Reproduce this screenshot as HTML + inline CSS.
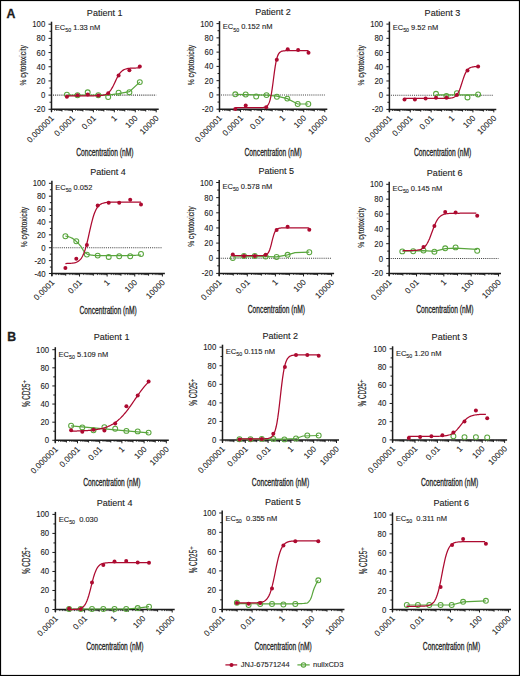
<!DOCTYPE html>
<html><head><meta charset="utf-8"><style>
html,body{margin:0;padding:0;background:#fff;}
body{width:520px;height:676px;overflow:hidden;position:relative;}
svg{position:absolute;left:0;top:0;}
text{font-family:"Liberation Sans",sans-serif;fill:#1c1c1c;stroke:#1c1c1c;stroke-width:0.22px;}
.ax{stroke:#1c1c1c;stroke-width:1;}
.axm{stroke:#1c1c1c;stroke-width:0.8;}
.axl{stroke:#1c1c1c;stroke-width:1.5;}
.dot{stroke:#444;stroke-width:1.1;stroke-dasharray:1.05 1.05;}
.yt{font-size:8.5px;text-anchor:end;stroke-width:0.1px;}
.xt{font-size:8.3px;text-anchor:end;stroke-width:0.1px;}
.title{font-size:9.7px;text-anchor:middle;stroke-width:0.12px;}
.xl{font-size:10.4px;text-anchor:middle;stroke-width:0.3px;}
.yl{font-size:9.7px;text-anchor:middle;stroke-width:0.18px;}
.ec{font-size:8px;stroke-width:0.12px;}
.gln{fill:none;stroke:#58a53c;stroke-width:1.2;}
.gpt{fill:none;stroke:#58a53c;stroke-width:1.05;}
.rln{fill:none;stroke:#ad0a30;stroke-width:1.25;}
.rpt{fill:#ad0a30;stroke:none;}
.lab{font-size:12.3px;font-weight:bold;stroke-width:0.3px;}
.leg{font-size:7.5px;stroke-width:0.1px;}
</style></head><body>
<svg width="520" height="676" viewBox="0 0 520 676">
<rect x="0.5" y="0.5" width="519" height="675" fill="none" stroke="#000" stroke-width="1.2"/>
<text x="6.6" y="17.7" class="lab">A</text>
<text x="7.2" y="341.2" class="lab">B</text>
<line x1="48.50" y1="109.30" x2="51.50" y2="109.30" class="ax"/>
<text transform="translate(45.30 112.30) scale(0.92 1)" class="yt">-20</text>
<line x1="49.50" y1="102.21" x2="51.50" y2="102.21" class="ax"/>
<line x1="48.50" y1="95.12" x2="51.50" y2="95.12" class="ax"/>
<text transform="translate(45.30 98.12) scale(0.92 1)" class="yt">0</text>
<line x1="49.50" y1="88.03" x2="51.50" y2="88.03" class="ax"/>
<line x1="48.50" y1="80.93" x2="51.50" y2="80.93" class="ax"/>
<text transform="translate(45.30 83.93) scale(0.92 1)" class="yt">20</text>
<line x1="49.50" y1="73.84" x2="51.50" y2="73.84" class="ax"/>
<line x1="48.50" y1="66.75" x2="51.50" y2="66.75" class="ax"/>
<text transform="translate(45.30 69.75) scale(0.92 1)" class="yt">40</text>
<line x1="49.50" y1="59.66" x2="51.50" y2="59.66" class="ax"/>
<line x1="48.50" y1="52.57" x2="51.50" y2="52.57" class="ax"/>
<text transform="translate(45.30 55.57) scale(0.92 1)" class="yt">60</text>
<line x1="49.50" y1="45.48" x2="51.50" y2="45.48" class="ax"/>
<line x1="48.50" y1="38.38" x2="51.50" y2="38.38" class="ax"/>
<text transform="translate(45.30 41.38) scale(0.92 1)" class="yt">80</text>
<line x1="49.50" y1="31.29" x2="51.50" y2="31.29" class="ax"/>
<line x1="48.50" y1="24.20" x2="51.50" y2="24.20" class="ax"/>
<text transform="translate(45.30 27.20) scale(0.92 1)" class="yt">100</text>
<line x1="51.50" y1="109.30" x2="51.50" y2="112.30" class="ax"/>
<line x1="54.65" y1="109.30" x2="54.65" y2="110.90" class="axm"/>
<line x1="56.50" y1="109.30" x2="56.50" y2="110.90" class="axm"/>
<line x1="57.80" y1="109.30" x2="57.80" y2="110.90" class="axm"/>
<line x1="58.82" y1="109.30" x2="58.82" y2="110.90" class="axm"/>
<line x1="59.65" y1="109.30" x2="59.65" y2="110.90" class="axm"/>
<line x1="60.35" y1="109.30" x2="60.35" y2="110.90" class="axm"/>
<line x1="60.96" y1="109.30" x2="60.96" y2="110.90" class="axm"/>
<line x1="61.49" y1="109.30" x2="61.49" y2="110.90" class="axm"/>
<text transform="translate(54.60 118.70) rotate(-45)" class="xt">0.000001</text>
<line x1="61.97" y1="109.30" x2="61.97" y2="111.50" class="ax"/>
<line x1="65.12" y1="109.30" x2="65.12" y2="110.90" class="axm"/>
<line x1="66.97" y1="109.30" x2="66.97" y2="110.90" class="axm"/>
<line x1="68.27" y1="109.30" x2="68.27" y2="110.90" class="axm"/>
<line x1="69.29" y1="109.30" x2="69.29" y2="110.90" class="axm"/>
<line x1="70.12" y1="109.30" x2="70.12" y2="110.90" class="axm"/>
<line x1="70.82" y1="109.30" x2="70.82" y2="110.90" class="axm"/>
<line x1="71.43" y1="109.30" x2="71.43" y2="110.90" class="axm"/>
<line x1="71.96" y1="109.30" x2="71.96" y2="110.90" class="axm"/>
<line x1="72.44" y1="109.30" x2="72.44" y2="112.30" class="ax"/>
<line x1="75.59" y1="109.30" x2="75.59" y2="110.90" class="axm"/>
<line x1="77.44" y1="109.30" x2="77.44" y2="110.90" class="axm"/>
<line x1="78.74" y1="109.30" x2="78.74" y2="110.90" class="axm"/>
<line x1="79.76" y1="109.30" x2="79.76" y2="110.90" class="axm"/>
<line x1="80.59" y1="109.30" x2="80.59" y2="110.90" class="axm"/>
<line x1="81.29" y1="109.30" x2="81.29" y2="110.90" class="axm"/>
<line x1="81.90" y1="109.30" x2="81.90" y2="110.90" class="axm"/>
<line x1="82.43" y1="109.30" x2="82.43" y2="110.90" class="axm"/>
<text transform="translate(75.54 118.70) rotate(-45)" class="xt">0.0001</text>
<line x1="82.91" y1="109.30" x2="82.91" y2="111.50" class="ax"/>
<line x1="86.06" y1="109.30" x2="86.06" y2="110.90" class="axm"/>
<line x1="87.91" y1="109.30" x2="87.91" y2="110.90" class="axm"/>
<line x1="89.21" y1="109.30" x2="89.21" y2="110.90" class="axm"/>
<line x1="90.23" y1="109.30" x2="90.23" y2="110.90" class="axm"/>
<line x1="91.06" y1="109.30" x2="91.06" y2="110.90" class="axm"/>
<line x1="91.76" y1="109.30" x2="91.76" y2="110.90" class="axm"/>
<line x1="92.37" y1="109.30" x2="92.37" y2="110.90" class="axm"/>
<line x1="92.90" y1="109.30" x2="92.90" y2="110.90" class="axm"/>
<line x1="93.38" y1="109.30" x2="93.38" y2="112.30" class="ax"/>
<line x1="96.53" y1="109.30" x2="96.53" y2="110.90" class="axm"/>
<line x1="98.38" y1="109.30" x2="98.38" y2="110.90" class="axm"/>
<line x1="99.68" y1="109.30" x2="99.68" y2="110.90" class="axm"/>
<line x1="100.70" y1="109.30" x2="100.70" y2="110.90" class="axm"/>
<line x1="101.53" y1="109.30" x2="101.53" y2="110.90" class="axm"/>
<line x1="102.23" y1="109.30" x2="102.23" y2="110.90" class="axm"/>
<line x1="102.84" y1="109.30" x2="102.84" y2="110.90" class="axm"/>
<line x1="103.37" y1="109.30" x2="103.37" y2="110.90" class="axm"/>
<text transform="translate(96.48 118.70) rotate(-45)" class="xt">0.01</text>
<line x1="103.85" y1="109.30" x2="103.85" y2="111.50" class="ax"/>
<line x1="107.00" y1="109.30" x2="107.00" y2="110.90" class="axm"/>
<line x1="108.85" y1="109.30" x2="108.85" y2="110.90" class="axm"/>
<line x1="110.15" y1="109.30" x2="110.15" y2="110.90" class="axm"/>
<line x1="111.17" y1="109.30" x2="111.17" y2="110.90" class="axm"/>
<line x1="112.00" y1="109.30" x2="112.00" y2="110.90" class="axm"/>
<line x1="112.70" y1="109.30" x2="112.70" y2="110.90" class="axm"/>
<line x1="113.31" y1="109.30" x2="113.31" y2="110.90" class="axm"/>
<line x1="113.84" y1="109.30" x2="113.84" y2="110.90" class="axm"/>
<line x1="114.32" y1="109.30" x2="114.32" y2="112.30" class="ax"/>
<line x1="117.47" y1="109.30" x2="117.47" y2="110.90" class="axm"/>
<line x1="119.32" y1="109.30" x2="119.32" y2="110.90" class="axm"/>
<line x1="120.62" y1="109.30" x2="120.62" y2="110.90" class="axm"/>
<line x1="121.64" y1="109.30" x2="121.64" y2="110.90" class="axm"/>
<line x1="122.47" y1="109.30" x2="122.47" y2="110.90" class="axm"/>
<line x1="123.17" y1="109.30" x2="123.17" y2="110.90" class="axm"/>
<line x1="123.78" y1="109.30" x2="123.78" y2="110.90" class="axm"/>
<line x1="124.31" y1="109.30" x2="124.31" y2="110.90" class="axm"/>
<text transform="translate(117.42 118.70) rotate(-45)" class="xt">1</text>
<line x1="124.79" y1="109.30" x2="124.79" y2="111.50" class="ax"/>
<line x1="127.94" y1="109.30" x2="127.94" y2="110.90" class="axm"/>
<line x1="129.79" y1="109.30" x2="129.79" y2="110.90" class="axm"/>
<line x1="131.09" y1="109.30" x2="131.09" y2="110.90" class="axm"/>
<line x1="132.11" y1="109.30" x2="132.11" y2="110.90" class="axm"/>
<line x1="132.94" y1="109.30" x2="132.94" y2="110.90" class="axm"/>
<line x1="133.64" y1="109.30" x2="133.64" y2="110.90" class="axm"/>
<line x1="134.25" y1="109.30" x2="134.25" y2="110.90" class="axm"/>
<line x1="134.78" y1="109.30" x2="134.78" y2="110.90" class="axm"/>
<line x1="135.26" y1="109.30" x2="135.26" y2="112.30" class="ax"/>
<line x1="138.41" y1="109.30" x2="138.41" y2="110.90" class="axm"/>
<line x1="140.26" y1="109.30" x2="140.26" y2="110.90" class="axm"/>
<line x1="141.56" y1="109.30" x2="141.56" y2="110.90" class="axm"/>
<line x1="142.58" y1="109.30" x2="142.58" y2="110.90" class="axm"/>
<line x1="143.41" y1="109.30" x2="143.41" y2="110.90" class="axm"/>
<line x1="144.11" y1="109.30" x2="144.11" y2="110.90" class="axm"/>
<line x1="144.72" y1="109.30" x2="144.72" y2="110.90" class="axm"/>
<line x1="145.25" y1="109.30" x2="145.25" y2="110.90" class="axm"/>
<text transform="translate(138.36 118.70) rotate(-45)" class="xt">100</text>
<line x1="145.73" y1="109.30" x2="145.73" y2="111.50" class="ax"/>
<line x1="148.88" y1="109.30" x2="148.88" y2="110.90" class="axm"/>
<line x1="150.73" y1="109.30" x2="150.73" y2="110.90" class="axm"/>
<line x1="152.03" y1="109.30" x2="152.03" y2="110.90" class="axm"/>
<line x1="153.05" y1="109.30" x2="153.05" y2="110.90" class="axm"/>
<line x1="153.88" y1="109.30" x2="153.88" y2="110.90" class="axm"/>
<line x1="154.58" y1="109.30" x2="154.58" y2="110.90" class="axm"/>
<line x1="155.19" y1="109.30" x2="155.19" y2="110.90" class="axm"/>
<line x1="155.72" y1="109.30" x2="155.72" y2="110.90" class="axm"/>
<line x1="156.20" y1="109.30" x2="156.20" y2="112.30" class="ax"/>
<text transform="translate(159.30 118.70) rotate(-45)" class="xt">10000</text>
<line x1="51.50" y1="21.70" x2="51.50" y2="111.80" class="axl"/>
<line x1="50.80" y1="109.30" x2="158.70" y2="109.30" class="axl"/>
<line x1="53.00" y1="95.12" x2="156.20" y2="95.12" class="dot"/>
<text transform="translate(104.65 15.80) scale(0.93 1)" class="title">Patient 1</text>
<text x="104.85" y="155.60" class="xl" textLength="57.3" lengthAdjust="spacingAndGlyphs">Concentration (nM)</text>
<text transform="translate(26.40 65.35) rotate(-90)" class="yl" textLength="40.4" lengthAdjust="spacingAndGlyphs">% cytotoxicity</text>
<text transform="translate(54.80 29.70) scale(0.94 1)" class="ec">EC<tspan font-size="5.6" dy="2.4">50</tspan><tspan dy="-2.4">&#160;1.33&#160;nM</tspan></text>
<polyline points="66.90,95.20 108.20,95.20 118.60,93.60 129.40,91.60 139.80,82.10" class="gln"/>
<circle cx="66.90" cy="94.60" r="2.45" class="gpt"/>
<circle cx="77.50" cy="95.20" r="2.45" class="gpt"/>
<circle cx="87.70" cy="92.30" r="2.45" class="gpt"/>
<circle cx="98.30" cy="95.20" r="2.45" class="gpt"/>
<circle cx="108.20" cy="97.00" r="2.45" class="gpt"/>
<circle cx="118.60" cy="92.70" r="2.45" class="gpt"/>
<circle cx="129.40" cy="92.20" r="2.45" class="gpt"/>
<circle cx="139.80" cy="82.10" r="2.45" class="gpt"/>
<polyline points="66.90,95.81 67.64,95.81 68.37,95.81 69.11,95.81 69.85,95.81 70.58,95.81 71.32,95.81 72.05,95.81 72.79,95.81 73.53,95.81 74.26,95.81 75.00,95.81 75.74,95.81 76.47,95.81 77.21,95.81 77.95,95.81 78.68,95.81 79.42,95.81 80.15,95.81 80.89,95.81 81.63,95.81 82.36,95.81 83.10,95.81 83.84,95.81 84.57,95.80 85.31,95.80 86.05,95.80 86.78,95.80 87.52,95.80 88.25,95.80 88.99,95.80 89.73,95.80 90.46,95.79 91.20,95.79 91.94,95.78 92.67,95.78 93.41,95.77 94.15,95.76 94.88,95.75 95.62,95.74 96.35,95.72 97.09,95.70 97.83,95.67 98.56,95.63 99.30,95.59 100.04,95.53 100.77,95.47 101.51,95.38 102.25,95.28 102.98,95.14 103.72,94.98 104.45,94.78 105.19,94.54 105.93,94.23 106.66,93.86 107.40,93.41 108.14,92.87 108.87,92.23 109.61,91.47 110.35,90.58 111.08,89.55 111.82,88.39 112.55,87.11 113.29,85.71 114.03,84.22 114.76,82.67 115.50,81.11 116.24,79.56 116.97,78.07 117.71,76.67 118.45,75.38 119.18,74.22 119.92,73.20 120.65,72.30 121.39,71.54 122.13,70.89 122.86,70.35 123.60,69.90 124.34,69.53 125.07,69.23 125.81,68.98 126.55,68.78 127.28,68.62 128.02,68.49 128.75,68.38 129.49,68.30 130.23,68.23 130.96,68.17 131.70,68.13 132.44,68.09 133.17,68.07 133.91,68.04 134.65,68.02 135.38,68.01 136.12,68.00 136.85,67.99 137.59,67.98 138.33,67.98 139.06,67.97 139.80,67.97" class="rln"/>
<circle cx="66.90" cy="96.70" r="2.0" class="rpt"/>
<circle cx="77.50" cy="95.20" r="2.0" class="rpt"/>
<circle cx="87.70" cy="94.60" r="2.0" class="rpt"/>
<circle cx="98.30" cy="95.40" r="2.0" class="rpt"/>
<circle cx="108.20" cy="93.30" r="2.0" class="rpt"/>
<circle cx="118.60" cy="75.40" r="2.0" class="rpt"/>
<circle cx="129.40" cy="70.20" r="2.0" class="rpt"/>
<circle cx="139.80" cy="66.50" r="2.0" class="rpt"/>
<line x1="216.50" y1="109.20" x2="219.50" y2="109.20" class="ax"/>
<text transform="translate(213.30 112.20) scale(0.92 1)" class="yt">-20</text>
<line x1="217.50" y1="102.07" x2="219.50" y2="102.07" class="ax"/>
<line x1="216.50" y1="94.93" x2="219.50" y2="94.93" class="ax"/>
<text transform="translate(213.30 97.93) scale(0.92 1)" class="yt">0</text>
<line x1="217.50" y1="87.80" x2="219.50" y2="87.80" class="ax"/>
<line x1="216.50" y1="80.67" x2="219.50" y2="80.67" class="ax"/>
<text transform="translate(213.30 83.67) scale(0.92 1)" class="yt">20</text>
<line x1="217.50" y1="73.53" x2="219.50" y2="73.53" class="ax"/>
<line x1="216.50" y1="66.40" x2="219.50" y2="66.40" class="ax"/>
<text transform="translate(213.30 69.40) scale(0.92 1)" class="yt">40</text>
<line x1="217.50" y1="59.27" x2="219.50" y2="59.27" class="ax"/>
<line x1="216.50" y1="52.13" x2="219.50" y2="52.13" class="ax"/>
<text transform="translate(213.30 55.13) scale(0.92 1)" class="yt">60</text>
<line x1="217.50" y1="45.00" x2="219.50" y2="45.00" class="ax"/>
<line x1="216.50" y1="37.87" x2="219.50" y2="37.87" class="ax"/>
<text transform="translate(213.30 40.87) scale(0.92 1)" class="yt">80</text>
<line x1="217.50" y1="30.73" x2="219.50" y2="30.73" class="ax"/>
<line x1="216.50" y1="23.60" x2="219.50" y2="23.60" class="ax"/>
<text transform="translate(213.30 26.60) scale(0.92 1)" class="yt">100</text>
<line x1="219.50" y1="109.20" x2="219.50" y2="112.20" class="ax"/>
<line x1="222.67" y1="109.20" x2="222.67" y2="110.80" class="axm"/>
<line x1="224.52" y1="109.20" x2="224.52" y2="110.80" class="axm"/>
<line x1="225.84" y1="109.20" x2="225.84" y2="110.80" class="axm"/>
<line x1="226.86" y1="109.20" x2="226.86" y2="110.80" class="axm"/>
<line x1="227.69" y1="109.20" x2="227.69" y2="110.80" class="axm"/>
<line x1="228.40" y1="109.20" x2="228.40" y2="110.80" class="axm"/>
<line x1="229.01" y1="109.20" x2="229.01" y2="110.80" class="axm"/>
<line x1="229.55" y1="109.20" x2="229.55" y2="110.80" class="axm"/>
<text transform="translate(222.60 118.60) rotate(-45)" class="xt">0.000001</text>
<line x1="230.03" y1="109.20" x2="230.03" y2="111.40" class="ax"/>
<line x1="233.20" y1="109.20" x2="233.20" y2="110.80" class="axm"/>
<line x1="235.05" y1="109.20" x2="235.05" y2="110.80" class="axm"/>
<line x1="236.37" y1="109.20" x2="236.37" y2="110.80" class="axm"/>
<line x1="237.39" y1="109.20" x2="237.39" y2="110.80" class="axm"/>
<line x1="238.22" y1="109.20" x2="238.22" y2="110.80" class="axm"/>
<line x1="238.93" y1="109.20" x2="238.93" y2="110.80" class="axm"/>
<line x1="239.54" y1="109.20" x2="239.54" y2="110.80" class="axm"/>
<line x1="240.08" y1="109.20" x2="240.08" y2="110.80" class="axm"/>
<line x1="240.56" y1="109.20" x2="240.56" y2="112.20" class="ax"/>
<line x1="243.73" y1="109.20" x2="243.73" y2="110.80" class="axm"/>
<line x1="245.58" y1="109.20" x2="245.58" y2="110.80" class="axm"/>
<line x1="246.90" y1="109.20" x2="246.90" y2="110.80" class="axm"/>
<line x1="247.92" y1="109.20" x2="247.92" y2="110.80" class="axm"/>
<line x1="248.75" y1="109.20" x2="248.75" y2="110.80" class="axm"/>
<line x1="249.46" y1="109.20" x2="249.46" y2="110.80" class="axm"/>
<line x1="250.07" y1="109.20" x2="250.07" y2="110.80" class="axm"/>
<line x1="250.61" y1="109.20" x2="250.61" y2="110.80" class="axm"/>
<text transform="translate(243.66 118.60) rotate(-45)" class="xt">0.0001</text>
<line x1="251.09" y1="109.20" x2="251.09" y2="111.40" class="ax"/>
<line x1="254.26" y1="109.20" x2="254.26" y2="110.80" class="axm"/>
<line x1="256.11" y1="109.20" x2="256.11" y2="110.80" class="axm"/>
<line x1="257.43" y1="109.20" x2="257.43" y2="110.80" class="axm"/>
<line x1="258.45" y1="109.20" x2="258.45" y2="110.80" class="axm"/>
<line x1="259.28" y1="109.20" x2="259.28" y2="110.80" class="axm"/>
<line x1="259.99" y1="109.20" x2="259.99" y2="110.80" class="axm"/>
<line x1="260.60" y1="109.20" x2="260.60" y2="110.80" class="axm"/>
<line x1="261.14" y1="109.20" x2="261.14" y2="110.80" class="axm"/>
<line x1="261.62" y1="109.20" x2="261.62" y2="112.20" class="ax"/>
<line x1="264.79" y1="109.20" x2="264.79" y2="110.80" class="axm"/>
<line x1="266.64" y1="109.20" x2="266.64" y2="110.80" class="axm"/>
<line x1="267.96" y1="109.20" x2="267.96" y2="110.80" class="axm"/>
<line x1="268.98" y1="109.20" x2="268.98" y2="110.80" class="axm"/>
<line x1="269.81" y1="109.20" x2="269.81" y2="110.80" class="axm"/>
<line x1="270.52" y1="109.20" x2="270.52" y2="110.80" class="axm"/>
<line x1="271.13" y1="109.20" x2="271.13" y2="110.80" class="axm"/>
<line x1="271.67" y1="109.20" x2="271.67" y2="110.80" class="axm"/>
<text transform="translate(264.72 118.60) rotate(-45)" class="xt">0.01</text>
<line x1="272.15" y1="109.20" x2="272.15" y2="111.40" class="ax"/>
<line x1="275.32" y1="109.20" x2="275.32" y2="110.80" class="axm"/>
<line x1="277.17" y1="109.20" x2="277.17" y2="110.80" class="axm"/>
<line x1="278.49" y1="109.20" x2="278.49" y2="110.80" class="axm"/>
<line x1="279.51" y1="109.20" x2="279.51" y2="110.80" class="axm"/>
<line x1="280.34" y1="109.20" x2="280.34" y2="110.80" class="axm"/>
<line x1="281.05" y1="109.20" x2="281.05" y2="110.80" class="axm"/>
<line x1="281.66" y1="109.20" x2="281.66" y2="110.80" class="axm"/>
<line x1="282.20" y1="109.20" x2="282.20" y2="110.80" class="axm"/>
<line x1="282.68" y1="109.20" x2="282.68" y2="112.20" class="ax"/>
<line x1="285.85" y1="109.20" x2="285.85" y2="110.80" class="axm"/>
<line x1="287.70" y1="109.20" x2="287.70" y2="110.80" class="axm"/>
<line x1="289.02" y1="109.20" x2="289.02" y2="110.80" class="axm"/>
<line x1="290.04" y1="109.20" x2="290.04" y2="110.80" class="axm"/>
<line x1="290.87" y1="109.20" x2="290.87" y2="110.80" class="axm"/>
<line x1="291.58" y1="109.20" x2="291.58" y2="110.80" class="axm"/>
<line x1="292.19" y1="109.20" x2="292.19" y2="110.80" class="axm"/>
<line x1="292.73" y1="109.20" x2="292.73" y2="110.80" class="axm"/>
<text transform="translate(285.78 118.60) rotate(-45)" class="xt">1</text>
<line x1="293.21" y1="109.20" x2="293.21" y2="111.40" class="ax"/>
<line x1="296.38" y1="109.20" x2="296.38" y2="110.80" class="axm"/>
<line x1="298.23" y1="109.20" x2="298.23" y2="110.80" class="axm"/>
<line x1="299.55" y1="109.20" x2="299.55" y2="110.80" class="axm"/>
<line x1="300.57" y1="109.20" x2="300.57" y2="110.80" class="axm"/>
<line x1="301.40" y1="109.20" x2="301.40" y2="110.80" class="axm"/>
<line x1="302.11" y1="109.20" x2="302.11" y2="110.80" class="axm"/>
<line x1="302.72" y1="109.20" x2="302.72" y2="110.80" class="axm"/>
<line x1="303.26" y1="109.20" x2="303.26" y2="110.80" class="axm"/>
<line x1="303.74" y1="109.20" x2="303.74" y2="112.20" class="ax"/>
<line x1="306.91" y1="109.20" x2="306.91" y2="110.80" class="axm"/>
<line x1="308.76" y1="109.20" x2="308.76" y2="110.80" class="axm"/>
<line x1="310.08" y1="109.20" x2="310.08" y2="110.80" class="axm"/>
<line x1="311.10" y1="109.20" x2="311.10" y2="110.80" class="axm"/>
<line x1="311.93" y1="109.20" x2="311.93" y2="110.80" class="axm"/>
<line x1="312.64" y1="109.20" x2="312.64" y2="110.80" class="axm"/>
<line x1="313.25" y1="109.20" x2="313.25" y2="110.80" class="axm"/>
<line x1="313.79" y1="109.20" x2="313.79" y2="110.80" class="axm"/>
<text transform="translate(306.84 118.60) rotate(-45)" class="xt">100</text>
<line x1="314.27" y1="109.20" x2="314.27" y2="111.40" class="ax"/>
<line x1="317.44" y1="109.20" x2="317.44" y2="110.80" class="axm"/>
<line x1="319.29" y1="109.20" x2="319.29" y2="110.80" class="axm"/>
<line x1="320.61" y1="109.20" x2="320.61" y2="110.80" class="axm"/>
<line x1="321.63" y1="109.20" x2="321.63" y2="110.80" class="axm"/>
<line x1="322.46" y1="109.20" x2="322.46" y2="110.80" class="axm"/>
<line x1="323.17" y1="109.20" x2="323.17" y2="110.80" class="axm"/>
<line x1="323.78" y1="109.20" x2="323.78" y2="110.80" class="axm"/>
<line x1="324.32" y1="109.20" x2="324.32" y2="110.80" class="axm"/>
<line x1="324.80" y1="109.20" x2="324.80" y2="112.20" class="ax"/>
<text transform="translate(327.90 118.60) rotate(-45)" class="xt">10000</text>
<line x1="219.50" y1="21.10" x2="219.50" y2="111.70" class="axl"/>
<line x1="218.80" y1="109.20" x2="327.30" y2="109.20" class="axl"/>
<line x1="221.00" y1="94.93" x2="324.80" y2="94.93" class="dot"/>
<text transform="translate(272.95 15.20) scale(0.93 1)" class="title">Patient 2</text>
<text x="273.15" y="155.50" class="xl" textLength="57.3" lengthAdjust="spacingAndGlyphs">Concentration (nM)</text>
<text transform="translate(194.40 65.00) rotate(-90)" class="yl" textLength="40.4" lengthAdjust="spacingAndGlyphs">% cytotoxicity</text>
<text transform="translate(222.80 29.10) scale(0.94 1)" class="ec">EC<tspan font-size="5.6" dy="2.4">50</tspan><tspan dy="-2.4">&#160;0.152&#160;nM</tspan></text>
<polyline points="235.30,94.40 245.70,94.60 266.50,95.10 276.90,96.20 287.30,98.60 297.70,104.00 308.30,104.00" class="gln"/>
<circle cx="235.30" cy="94.30" r="2.45" class="gpt"/>
<circle cx="245.70" cy="94.50" r="2.45" class="gpt"/>
<circle cx="256.20" cy="96.50" r="2.45" class="gpt"/>
<circle cx="266.50" cy="95.10" r="2.45" class="gpt"/>
<circle cx="276.90" cy="96.70" r="2.45" class="gpt"/>
<circle cx="287.30" cy="98.60" r="2.45" class="gpt"/>
<circle cx="297.70" cy="104.00" r="2.45" class="gpt"/>
<circle cx="308.30" cy="104.00" r="2.45" class="gpt"/>
<polyline points="235.30,107.70 236.04,107.70 236.78,107.70 237.52,107.70 238.26,107.70 239.00,107.70 239.74,107.70 240.48,107.70 241.22,107.70 241.95,107.70 242.69,107.70 243.43,107.70 244.17,107.70 244.91,107.70 245.65,107.70 246.39,107.70 247.13,107.70 247.87,107.70 248.61,107.70 249.35,107.70 250.09,107.70 250.83,107.70 251.57,107.70 252.31,107.70 253.05,107.70 253.78,107.70 254.52,107.70 255.26,107.70 256.00,107.70 256.74,107.70 257.48,107.70 258.22,107.69 258.96,107.68 259.70,107.67 260.44,107.66 261.18,107.64 261.92,107.60 262.66,107.55 263.40,107.48 264.14,107.36 264.88,107.19 265.62,106.94 266.35,106.57 267.09,106.01 267.83,105.21 268.57,104.04 269.31,102.38 270.05,100.08 270.79,96.99 271.53,93.02 272.27,88.20 273.01,82.73 273.75,76.98 274.49,71.40 275.23,66.40 275.97,62.22 276.71,58.92 277.45,56.45 278.18,54.65 278.92,53.38 279.66,52.50 280.40,51.90 281.14,51.48 281.88,51.21 282.62,51.02 283.36,50.90 284.10,50.81 284.84,50.76 285.58,50.72 286.32,50.69 287.06,50.68 287.80,50.67 288.54,50.66 289.28,50.65 290.02,50.65 290.75,50.65 291.49,50.65 292.23,50.65 292.97,50.65 293.71,50.64 294.45,50.64 295.19,50.64 295.93,50.64 296.67,50.64 297.41,50.64 298.15,50.64 298.89,50.64 299.63,50.64 300.37,50.64 301.11,50.64 301.85,50.64 302.58,50.64 303.32,50.64 304.06,50.64 304.80,50.64 305.54,50.64 306.28,50.64 307.02,50.64 307.76,50.64 308.50,50.64" class="rln"/>
<circle cx="235.30" cy="108.90" r="2.0" class="rpt"/>
<circle cx="245.70" cy="105.40" r="2.0" class="rpt"/>
<circle cx="266.20" cy="107.20" r="2.0" class="rpt"/>
<circle cx="276.80" cy="59.70" r="2.0" class="rpt"/>
<circle cx="287.70" cy="49.30" r="2.0" class="rpt"/>
<circle cx="298.10" cy="50.00" r="2.0" class="rpt"/>
<circle cx="308.50" cy="52.80" r="2.0" class="rpt"/>
<line x1="386.40" y1="109.40" x2="389.40" y2="109.40" class="ax"/>
<text transform="translate(383.20 112.40) scale(0.92 1)" class="yt">-20</text>
<line x1="387.40" y1="102.29" x2="389.40" y2="102.29" class="ax"/>
<line x1="386.40" y1="95.18" x2="389.40" y2="95.18" class="ax"/>
<text transform="translate(383.20 98.18) scale(0.92 1)" class="yt">0</text>
<line x1="387.40" y1="88.08" x2="389.40" y2="88.08" class="ax"/>
<line x1="386.40" y1="80.97" x2="389.40" y2="80.97" class="ax"/>
<text transform="translate(383.20 83.97) scale(0.92 1)" class="yt">20</text>
<line x1="387.40" y1="73.86" x2="389.40" y2="73.86" class="ax"/>
<line x1="386.40" y1="66.75" x2="389.40" y2="66.75" class="ax"/>
<text transform="translate(383.20 69.75) scale(0.92 1)" class="yt">40</text>
<line x1="387.40" y1="59.64" x2="389.40" y2="59.64" class="ax"/>
<line x1="386.40" y1="52.53" x2="389.40" y2="52.53" class="ax"/>
<text transform="translate(383.20 55.53) scale(0.92 1)" class="yt">60</text>
<line x1="387.40" y1="45.42" x2="389.40" y2="45.42" class="ax"/>
<line x1="386.40" y1="38.32" x2="389.40" y2="38.32" class="ax"/>
<text transform="translate(383.20 41.32) scale(0.92 1)" class="yt">80</text>
<line x1="387.40" y1="31.21" x2="389.40" y2="31.21" class="ax"/>
<line x1="386.40" y1="24.10" x2="389.40" y2="24.10" class="ax"/>
<text transform="translate(383.20 27.10) scale(0.92 1)" class="yt">100</text>
<line x1="389.40" y1="109.40" x2="389.40" y2="112.40" class="ax"/>
<line x1="392.54" y1="109.40" x2="392.54" y2="111.00" class="axm"/>
<line x1="394.38" y1="109.40" x2="394.38" y2="111.00" class="axm"/>
<line x1="395.69" y1="109.40" x2="395.69" y2="111.00" class="axm"/>
<line x1="396.70" y1="109.40" x2="396.70" y2="111.00" class="axm"/>
<line x1="397.52" y1="109.40" x2="397.52" y2="111.00" class="axm"/>
<line x1="398.22" y1="109.40" x2="398.22" y2="111.00" class="axm"/>
<line x1="398.83" y1="109.40" x2="398.83" y2="111.00" class="axm"/>
<line x1="399.36" y1="109.40" x2="399.36" y2="111.00" class="axm"/>
<text transform="translate(392.50 118.80) rotate(-45)" class="xt">0.000001</text>
<line x1="399.84" y1="109.40" x2="399.84" y2="111.60" class="ax"/>
<line x1="402.98" y1="109.40" x2="402.98" y2="111.00" class="axm"/>
<line x1="404.82" y1="109.40" x2="404.82" y2="111.00" class="axm"/>
<line x1="406.13" y1="109.40" x2="406.13" y2="111.00" class="axm"/>
<line x1="407.14" y1="109.40" x2="407.14" y2="111.00" class="axm"/>
<line x1="407.96" y1="109.40" x2="407.96" y2="111.00" class="axm"/>
<line x1="408.66" y1="109.40" x2="408.66" y2="111.00" class="axm"/>
<line x1="409.27" y1="109.40" x2="409.27" y2="111.00" class="axm"/>
<line x1="409.80" y1="109.40" x2="409.80" y2="111.00" class="axm"/>
<line x1="410.28" y1="109.40" x2="410.28" y2="112.40" class="ax"/>
<line x1="413.42" y1="109.40" x2="413.42" y2="111.00" class="axm"/>
<line x1="415.26" y1="109.40" x2="415.26" y2="111.00" class="axm"/>
<line x1="416.57" y1="109.40" x2="416.57" y2="111.00" class="axm"/>
<line x1="417.58" y1="109.40" x2="417.58" y2="111.00" class="axm"/>
<line x1="418.40" y1="109.40" x2="418.40" y2="111.00" class="axm"/>
<line x1="419.10" y1="109.40" x2="419.10" y2="111.00" class="axm"/>
<line x1="419.71" y1="109.40" x2="419.71" y2="111.00" class="axm"/>
<line x1="420.24" y1="109.40" x2="420.24" y2="111.00" class="axm"/>
<text transform="translate(413.38 118.80) rotate(-45)" class="xt">0.0001</text>
<line x1="420.72" y1="109.40" x2="420.72" y2="111.60" class="ax"/>
<line x1="423.86" y1="109.40" x2="423.86" y2="111.00" class="axm"/>
<line x1="425.70" y1="109.40" x2="425.70" y2="111.00" class="axm"/>
<line x1="427.01" y1="109.40" x2="427.01" y2="111.00" class="axm"/>
<line x1="428.02" y1="109.40" x2="428.02" y2="111.00" class="axm"/>
<line x1="428.84" y1="109.40" x2="428.84" y2="111.00" class="axm"/>
<line x1="429.54" y1="109.40" x2="429.54" y2="111.00" class="axm"/>
<line x1="430.15" y1="109.40" x2="430.15" y2="111.00" class="axm"/>
<line x1="430.68" y1="109.40" x2="430.68" y2="111.00" class="axm"/>
<line x1="431.16" y1="109.40" x2="431.16" y2="112.40" class="ax"/>
<line x1="434.30" y1="109.40" x2="434.30" y2="111.00" class="axm"/>
<line x1="436.14" y1="109.40" x2="436.14" y2="111.00" class="axm"/>
<line x1="437.45" y1="109.40" x2="437.45" y2="111.00" class="axm"/>
<line x1="438.46" y1="109.40" x2="438.46" y2="111.00" class="axm"/>
<line x1="439.28" y1="109.40" x2="439.28" y2="111.00" class="axm"/>
<line x1="439.98" y1="109.40" x2="439.98" y2="111.00" class="axm"/>
<line x1="440.59" y1="109.40" x2="440.59" y2="111.00" class="axm"/>
<line x1="441.12" y1="109.40" x2="441.12" y2="111.00" class="axm"/>
<text transform="translate(434.26 118.80) rotate(-45)" class="xt">0.01</text>
<line x1="441.60" y1="109.40" x2="441.60" y2="111.60" class="ax"/>
<line x1="444.74" y1="109.40" x2="444.74" y2="111.00" class="axm"/>
<line x1="446.58" y1="109.40" x2="446.58" y2="111.00" class="axm"/>
<line x1="447.89" y1="109.40" x2="447.89" y2="111.00" class="axm"/>
<line x1="448.90" y1="109.40" x2="448.90" y2="111.00" class="axm"/>
<line x1="449.72" y1="109.40" x2="449.72" y2="111.00" class="axm"/>
<line x1="450.42" y1="109.40" x2="450.42" y2="111.00" class="axm"/>
<line x1="451.03" y1="109.40" x2="451.03" y2="111.00" class="axm"/>
<line x1="451.56" y1="109.40" x2="451.56" y2="111.00" class="axm"/>
<line x1="452.04" y1="109.40" x2="452.04" y2="112.40" class="ax"/>
<line x1="455.18" y1="109.40" x2="455.18" y2="111.00" class="axm"/>
<line x1="457.02" y1="109.40" x2="457.02" y2="111.00" class="axm"/>
<line x1="458.33" y1="109.40" x2="458.33" y2="111.00" class="axm"/>
<line x1="459.34" y1="109.40" x2="459.34" y2="111.00" class="axm"/>
<line x1="460.16" y1="109.40" x2="460.16" y2="111.00" class="axm"/>
<line x1="460.86" y1="109.40" x2="460.86" y2="111.00" class="axm"/>
<line x1="461.47" y1="109.40" x2="461.47" y2="111.00" class="axm"/>
<line x1="462.00" y1="109.40" x2="462.00" y2="111.00" class="axm"/>
<text transform="translate(455.14 118.80) rotate(-45)" class="xt">1</text>
<line x1="462.48" y1="109.40" x2="462.48" y2="111.60" class="ax"/>
<line x1="465.62" y1="109.40" x2="465.62" y2="111.00" class="axm"/>
<line x1="467.46" y1="109.40" x2="467.46" y2="111.00" class="axm"/>
<line x1="468.77" y1="109.40" x2="468.77" y2="111.00" class="axm"/>
<line x1="469.78" y1="109.40" x2="469.78" y2="111.00" class="axm"/>
<line x1="470.60" y1="109.40" x2="470.60" y2="111.00" class="axm"/>
<line x1="471.30" y1="109.40" x2="471.30" y2="111.00" class="axm"/>
<line x1="471.91" y1="109.40" x2="471.91" y2="111.00" class="axm"/>
<line x1="472.44" y1="109.40" x2="472.44" y2="111.00" class="axm"/>
<line x1="472.92" y1="109.40" x2="472.92" y2="112.40" class="ax"/>
<line x1="476.06" y1="109.40" x2="476.06" y2="111.00" class="axm"/>
<line x1="477.90" y1="109.40" x2="477.90" y2="111.00" class="axm"/>
<line x1="479.21" y1="109.40" x2="479.21" y2="111.00" class="axm"/>
<line x1="480.22" y1="109.40" x2="480.22" y2="111.00" class="axm"/>
<line x1="481.04" y1="109.40" x2="481.04" y2="111.00" class="axm"/>
<line x1="481.74" y1="109.40" x2="481.74" y2="111.00" class="axm"/>
<line x1="482.35" y1="109.40" x2="482.35" y2="111.00" class="axm"/>
<line x1="482.88" y1="109.40" x2="482.88" y2="111.00" class="axm"/>
<text transform="translate(476.02 118.80) rotate(-45)" class="xt">100</text>
<line x1="483.36" y1="109.40" x2="483.36" y2="111.60" class="ax"/>
<line x1="486.50" y1="109.40" x2="486.50" y2="111.00" class="axm"/>
<line x1="488.34" y1="109.40" x2="488.34" y2="111.00" class="axm"/>
<line x1="489.65" y1="109.40" x2="489.65" y2="111.00" class="axm"/>
<line x1="490.66" y1="109.40" x2="490.66" y2="111.00" class="axm"/>
<line x1="491.48" y1="109.40" x2="491.48" y2="111.00" class="axm"/>
<line x1="492.18" y1="109.40" x2="492.18" y2="111.00" class="axm"/>
<line x1="492.79" y1="109.40" x2="492.79" y2="111.00" class="axm"/>
<line x1="493.32" y1="109.40" x2="493.32" y2="111.00" class="axm"/>
<line x1="493.80" y1="109.40" x2="493.80" y2="112.40" class="ax"/>
<text transform="translate(496.90 118.80) rotate(-45)" class="xt">10000</text>
<line x1="389.40" y1="21.60" x2="389.40" y2="111.90" class="axl"/>
<line x1="388.70" y1="109.40" x2="496.30" y2="109.40" class="axl"/>
<line x1="390.90" y1="95.18" x2="493.80" y2="95.18" class="dot"/>
<text transform="translate(442.40 15.70) scale(0.93 1)" class="title">Patient 3</text>
<text x="442.60" y="155.70" class="xl" textLength="57.3" lengthAdjust="spacingAndGlyphs">Concentration (nM)</text>
<text transform="translate(364.30 65.35) rotate(-90)" class="yl" textLength="40.4" lengthAdjust="spacingAndGlyphs">% cytotoxicity</text>
<text transform="translate(392.70 29.60) scale(0.94 1)" class="ec">EC<tspan font-size="5.6" dy="2.4">50</tspan><tspan dy="-2.4">&#160;9.52&#160;nM</tspan></text>
<polyline points="436.00,94.90 478.10,94.90" class="gln"/>
<circle cx="436.00" cy="93.80" r="2.45" class="gpt"/>
<circle cx="446.40" cy="96.00" r="2.45" class="gpt"/>
<circle cx="456.90" cy="93.10" r="2.45" class="gpt"/>
<circle cx="467.50" cy="97.40" r="2.45" class="gpt"/>
<circle cx="478.10" cy="94.40" r="2.45" class="gpt"/>
<polyline points="404.50,98.45 405.24,98.45 405.99,98.45 406.73,98.45 407.47,98.45 408.22,98.45 408.96,98.45 409.70,98.45 410.45,98.45 411.19,98.45 411.93,98.45 412.68,98.45 413.42,98.45 414.16,98.45 414.91,98.45 415.65,98.45 416.39,98.45 417.14,98.45 417.88,98.45 418.63,98.45 419.37,98.45 420.11,98.45 420.86,98.45 421.60,98.45 422.34,98.45 423.09,98.45 423.83,98.45 424.57,98.45 425.32,98.45 426.06,98.45 426.80,98.45 427.55,98.45 428.29,98.45 429.03,98.45 429.78,98.45 430.52,98.45 431.26,98.45 432.01,98.45 432.75,98.45 433.49,98.45 434.24,98.45 434.98,98.45 435.72,98.45 436.47,98.45 437.21,98.45 437.95,98.45 438.70,98.45 439.44,98.45 440.18,98.45 440.93,98.44 441.67,98.44 442.42,98.44 443.16,98.43 443.90,98.43 444.65,98.42 445.39,98.41 446.13,98.39 446.88,98.37 447.62,98.34 448.36,98.31 449.11,98.26 449.85,98.19 450.59,98.11 451.34,97.99 452.08,97.84 452.82,97.64 453.57,97.37 454.31,97.02 455.05,96.56 455.80,95.97 456.54,95.21 457.28,94.25 458.03,93.06 458.77,91.61 459.51,89.91 460.26,87.95 461.00,85.80 461.74,83.50 462.49,81.16 463.23,78.88 463.97,76.74 464.72,74.81 465.46,73.13 466.21,71.72 466.95,70.55 467.69,69.62 468.44,68.88 469.18,68.30 469.92,67.85 470.67,67.51 471.41,67.25 472.15,67.06 472.90,66.91 473.64,66.80 474.38,66.71 475.13,66.65 475.87,66.60 476.61,66.57 477.36,66.54 478.10,66.52" class="rln"/>
<circle cx="404.50" cy="99.40" r="2.0" class="rpt"/>
<circle cx="414.90" cy="99.40" r="2.0" class="rpt"/>
<circle cx="425.60" cy="98.50" r="2.0" class="rpt"/>
<circle cx="436.00" cy="97.80" r="2.0" class="rpt"/>
<circle cx="446.50" cy="97.80" r="2.0" class="rpt"/>
<circle cx="456.90" cy="95.00" r="2.0" class="rpt"/>
<circle cx="467.50" cy="70.40" r="2.0" class="rpt"/>
<circle cx="478.10" cy="66.40" r="2.0" class="rpt"/>
<line x1="48.90" y1="273.50" x2="51.90" y2="273.50" class="ax"/>
<text transform="translate(45.70 276.50) scale(0.92 1)" class="yt">-40</text>
<line x1="49.90" y1="267.06" x2="51.90" y2="267.06" class="ax"/>
<line x1="48.90" y1="260.61" x2="51.90" y2="260.61" class="ax"/>
<text transform="translate(45.70 263.61) scale(0.92 1)" class="yt">-20</text>
<line x1="49.90" y1="254.17" x2="51.90" y2="254.17" class="ax"/>
<line x1="48.90" y1="247.73" x2="51.90" y2="247.73" class="ax"/>
<text transform="translate(45.70 250.73) scale(0.92 1)" class="yt">0</text>
<line x1="49.90" y1="241.29" x2="51.90" y2="241.29" class="ax"/>
<line x1="48.90" y1="234.84" x2="51.90" y2="234.84" class="ax"/>
<text transform="translate(45.70 237.84) scale(0.92 1)" class="yt">20</text>
<line x1="49.90" y1="228.40" x2="51.90" y2="228.40" class="ax"/>
<line x1="48.90" y1="221.96" x2="51.90" y2="221.96" class="ax"/>
<text transform="translate(45.70 224.96) scale(0.92 1)" class="yt">40</text>
<line x1="49.90" y1="215.51" x2="51.90" y2="215.51" class="ax"/>
<line x1="48.90" y1="209.07" x2="51.90" y2="209.07" class="ax"/>
<text transform="translate(45.70 212.07) scale(0.92 1)" class="yt">60</text>
<line x1="49.90" y1="202.63" x2="51.90" y2="202.63" class="ax"/>
<line x1="48.90" y1="196.19" x2="51.90" y2="196.19" class="ax"/>
<text transform="translate(45.70 199.19) scale(0.92 1)" class="yt">80</text>
<line x1="49.90" y1="189.74" x2="51.90" y2="189.74" class="ax"/>
<line x1="48.90" y1="183.30" x2="51.90" y2="183.30" class="ax"/>
<text transform="translate(45.70 186.30) scale(0.92 1)" class="yt">100</text>
<line x1="51.90" y1="273.50" x2="51.90" y2="276.50" class="ax"/>
<line x1="56.06" y1="273.50" x2="56.06" y2="275.10" class="axm"/>
<line x1="58.49" y1="273.50" x2="58.49" y2="275.10" class="axm"/>
<line x1="60.21" y1="273.50" x2="60.21" y2="275.10" class="axm"/>
<line x1="61.55" y1="273.50" x2="61.55" y2="275.10" class="axm"/>
<line x1="62.65" y1="273.50" x2="62.65" y2="275.10" class="axm"/>
<line x1="63.57" y1="273.50" x2="63.57" y2="275.10" class="axm"/>
<line x1="64.37" y1="273.50" x2="64.37" y2="275.10" class="axm"/>
<line x1="65.08" y1="273.50" x2="65.08" y2="275.10" class="axm"/>
<text transform="translate(55.00 282.90) rotate(-45)" class="xt">0.0001</text>
<line x1="65.71" y1="273.50" x2="65.71" y2="275.70" class="ax"/>
<line x1="69.87" y1="273.50" x2="69.87" y2="275.10" class="axm"/>
<line x1="72.30" y1="273.50" x2="72.30" y2="275.10" class="axm"/>
<line x1="74.02" y1="273.50" x2="74.02" y2="275.10" class="axm"/>
<line x1="75.36" y1="273.50" x2="75.36" y2="275.10" class="axm"/>
<line x1="76.46" y1="273.50" x2="76.46" y2="275.10" class="axm"/>
<line x1="77.38" y1="273.50" x2="77.38" y2="275.10" class="axm"/>
<line x1="78.18" y1="273.50" x2="78.18" y2="275.10" class="axm"/>
<line x1="78.89" y1="273.50" x2="78.89" y2="275.10" class="axm"/>
<line x1="79.52" y1="273.50" x2="79.52" y2="276.50" class="ax"/>
<line x1="83.68" y1="273.50" x2="83.68" y2="275.10" class="axm"/>
<line x1="86.11" y1="273.50" x2="86.11" y2="275.10" class="axm"/>
<line x1="87.83" y1="273.50" x2="87.83" y2="275.10" class="axm"/>
<line x1="89.17" y1="273.50" x2="89.17" y2="275.10" class="axm"/>
<line x1="90.27" y1="273.50" x2="90.27" y2="275.10" class="axm"/>
<line x1="91.19" y1="273.50" x2="91.19" y2="275.10" class="axm"/>
<line x1="91.99" y1="273.50" x2="91.99" y2="275.10" class="axm"/>
<line x1="92.70" y1="273.50" x2="92.70" y2="275.10" class="axm"/>
<text transform="translate(82.62 282.90) rotate(-45)" class="xt">0.01</text>
<line x1="93.33" y1="273.50" x2="93.33" y2="275.70" class="ax"/>
<line x1="97.49" y1="273.50" x2="97.49" y2="275.10" class="axm"/>
<line x1="99.92" y1="273.50" x2="99.92" y2="275.10" class="axm"/>
<line x1="101.64" y1="273.50" x2="101.64" y2="275.10" class="axm"/>
<line x1="102.98" y1="273.50" x2="102.98" y2="275.10" class="axm"/>
<line x1="104.08" y1="273.50" x2="104.08" y2="275.10" class="axm"/>
<line x1="105.00" y1="273.50" x2="105.00" y2="275.10" class="axm"/>
<line x1="105.80" y1="273.50" x2="105.80" y2="275.10" class="axm"/>
<line x1="106.51" y1="273.50" x2="106.51" y2="275.10" class="axm"/>
<line x1="107.14" y1="273.50" x2="107.14" y2="276.50" class="ax"/>
<line x1="111.30" y1="273.50" x2="111.30" y2="275.10" class="axm"/>
<line x1="113.73" y1="273.50" x2="113.73" y2="275.10" class="axm"/>
<line x1="115.45" y1="273.50" x2="115.45" y2="275.10" class="axm"/>
<line x1="116.79" y1="273.50" x2="116.79" y2="275.10" class="axm"/>
<line x1="117.89" y1="273.50" x2="117.89" y2="275.10" class="axm"/>
<line x1="118.81" y1="273.50" x2="118.81" y2="275.10" class="axm"/>
<line x1="119.61" y1="273.50" x2="119.61" y2="275.10" class="axm"/>
<line x1="120.32" y1="273.50" x2="120.32" y2="275.10" class="axm"/>
<text transform="translate(110.24 282.90) rotate(-45)" class="xt">1</text>
<line x1="120.95" y1="273.50" x2="120.95" y2="275.70" class="ax"/>
<line x1="125.11" y1="273.50" x2="125.11" y2="275.10" class="axm"/>
<line x1="127.54" y1="273.50" x2="127.54" y2="275.10" class="axm"/>
<line x1="129.26" y1="273.50" x2="129.26" y2="275.10" class="axm"/>
<line x1="130.60" y1="273.50" x2="130.60" y2="275.10" class="axm"/>
<line x1="131.70" y1="273.50" x2="131.70" y2="275.10" class="axm"/>
<line x1="132.62" y1="273.50" x2="132.62" y2="275.10" class="axm"/>
<line x1="133.42" y1="273.50" x2="133.42" y2="275.10" class="axm"/>
<line x1="134.13" y1="273.50" x2="134.13" y2="275.10" class="axm"/>
<line x1="134.76" y1="273.50" x2="134.76" y2="276.50" class="ax"/>
<line x1="138.92" y1="273.50" x2="138.92" y2="275.10" class="axm"/>
<line x1="141.35" y1="273.50" x2="141.35" y2="275.10" class="axm"/>
<line x1="143.07" y1="273.50" x2="143.07" y2="275.10" class="axm"/>
<line x1="144.41" y1="273.50" x2="144.41" y2="275.10" class="axm"/>
<line x1="145.51" y1="273.50" x2="145.51" y2="275.10" class="axm"/>
<line x1="146.43" y1="273.50" x2="146.43" y2="275.10" class="axm"/>
<line x1="147.23" y1="273.50" x2="147.23" y2="275.10" class="axm"/>
<line x1="147.94" y1="273.50" x2="147.94" y2="275.10" class="axm"/>
<text transform="translate(137.86 282.90) rotate(-45)" class="xt">100</text>
<line x1="148.57" y1="273.50" x2="148.57" y2="275.70" class="ax"/>
<line x1="152.73" y1="273.50" x2="152.73" y2="275.10" class="axm"/>
<line x1="155.16" y1="273.50" x2="155.16" y2="275.10" class="axm"/>
<line x1="156.88" y1="273.50" x2="156.88" y2="275.10" class="axm"/>
<line x1="158.22" y1="273.50" x2="158.22" y2="275.10" class="axm"/>
<line x1="159.32" y1="273.50" x2="159.32" y2="275.10" class="axm"/>
<line x1="160.24" y1="273.50" x2="160.24" y2="275.10" class="axm"/>
<line x1="161.04" y1="273.50" x2="161.04" y2="275.10" class="axm"/>
<line x1="161.75" y1="273.50" x2="161.75" y2="275.10" class="axm"/>
<line x1="162.38" y1="273.50" x2="162.38" y2="276.50" class="ax"/>
<text transform="translate(165.48 282.90) rotate(-45)" class="xt">10000</text>
<line x1="51.90" y1="180.80" x2="51.90" y2="276.00" class="axl"/>
<line x1="51.20" y1="273.50" x2="164.88" y2="273.50" class="axl"/>
<line x1="53.40" y1="247.73" x2="162.38" y2="247.73" class="dot"/>
<text transform="translate(107.94 174.90) scale(0.93 1)" class="title">Patient 4</text>
<text x="108.14" y="313.50" class="xl" textLength="57.3" lengthAdjust="spacingAndGlyphs">Concentration (nM)</text>
<text transform="translate(26.80 227.00) rotate(-90)" class="yl" textLength="40.4" lengthAdjust="spacingAndGlyphs">% cytotoxicity</text>
<text transform="translate(55.20 189.80) scale(0.94 1)" class="ec">EC<tspan font-size="5.6" dy="2.4">50</tspan><tspan dy="-2.4">&#160;0.052</tspan></text>
<polyline points="65.40,236.20 66.36,236.26 67.31,236.42 68.27,236.66 69.23,236.96 70.18,237.31 71.14,237.68 72.10,238.13 73.06,238.76 74.01,239.50 74.97,240.32 75.93,241.17 76.88,242.03 77.84,242.95 78.80,243.95 79.75,245.03 80.71,246.19 81.67,247.58 82.63,249.24 83.58,250.83 84.54,252.04 85.50,252.88 86.45,253.63 87.41,254.21 88.37,254.57 89.32,254.76 90.28,254.92 91.24,255.07 92.19,255.20 93.15,255.31 94.11,255.40 95.07,255.48 96.02,255.54 96.98,255.58 97.94,255.60 98.89,255.61 99.85,255.62 100.81,255.62 101.76,255.63 102.72,255.64 103.68,255.65 104.64,255.65 105.59,255.66 106.55,255.66 107.51,255.67 108.46,255.67 109.42,255.68 110.38,255.68 111.33,255.69 112.29,255.69 113.25,255.69 114.21,255.69 115.16,255.70 116.12,255.70 117.08,255.70 118.03,255.70 118.99,255.70 119.95,255.70 120.90,255.70 121.86,255.69 122.82,255.68 123.77,255.67 124.73,255.65 125.69,255.63 126.65,255.61 127.60,255.58 128.56,255.55 129.52,255.52 130.47,255.49 131.43,255.45 132.39,255.41 133.34,255.37 134.30,255.33 135.26,255.29 136.22,255.24 137.17,255.19 138.13,255.15 139.09,255.10 140.04,255.05 141.00,255.00" class="gln"/>
<circle cx="65.40" cy="236.20" r="2.45" class="gpt"/>
<circle cx="76.30" cy="241.20" r="2.45" class="gpt"/>
<circle cx="86.90" cy="254.60" r="2.45" class="gpt"/>
<circle cx="97.70" cy="255.60" r="2.45" class="gpt"/>
<circle cx="108.70" cy="256.90" r="2.45" class="gpt"/>
<circle cx="119.20" cy="256.30" r="2.45" class="gpt"/>
<circle cx="130.20" cy="256.30" r="2.45" class="gpt"/>
<circle cx="141.00" cy="254.00" r="2.45" class="gpt"/>
<polyline points="65.40,263.52 66.16,263.51 66.93,263.49 67.69,263.47 68.45,263.44 69.22,263.41 69.98,263.36 70.75,263.31 71.51,263.25 72.27,263.16 73.04,263.06 73.80,262.93 74.56,262.77 75.33,262.58 76.09,262.33 76.85,262.03 77.62,261.65 78.38,261.19 79.15,260.61 79.91,259.91 80.67,259.06 81.44,258.03 82.20,256.79 82.96,255.32 83.73,253.58 84.49,251.56 85.25,249.25 86.02,246.64 86.78,243.75 87.55,240.63 88.31,237.33 89.07,233.92 89.84,230.48 90.60,227.10 91.36,223.86 92.13,220.82 92.89,218.03 93.65,215.53 94.42,213.33 95.18,211.42 95.95,209.78 96.71,208.40 97.47,207.24 98.24,206.28 99.00,205.49 99.76,204.84 100.53,204.31 101.29,203.88 102.05,203.53 102.82,203.25 103.58,203.02 104.35,202.84 105.11,202.69 105.87,202.58 106.64,202.48 107.40,202.41 108.16,202.35 108.93,202.30 109.69,202.26 110.45,202.23 111.22,202.20 111.98,202.18 112.75,202.17 113.51,202.15 114.27,202.14 115.04,202.14 115.80,202.13 116.56,202.12 117.33,202.12 118.09,202.12 118.85,202.11 119.62,202.11 120.38,202.11 121.15,202.11 121.91,202.11 122.67,202.11 123.44,202.11 124.20,202.11 124.96,202.10 125.73,202.10 126.49,202.10 127.25,202.10 128.02,202.10 128.78,202.10 129.55,202.10 130.31,202.10 131.07,202.10 131.84,202.10 132.60,202.10 133.36,202.10 134.13,202.10 134.89,202.10 135.65,202.10 136.42,202.10 137.18,202.10 137.95,202.10 138.71,202.10 139.47,202.10 140.24,202.10 141.00,202.10" class="rln"/>
<circle cx="65.40" cy="267.90" r="2.0" class="rpt"/>
<circle cx="76.30" cy="258.80" r="2.0" class="rpt"/>
<circle cx="86.90" cy="245.00" r="2.0" class="rpt"/>
<circle cx="97.70" cy="205.60" r="2.0" class="rpt"/>
<circle cx="108.70" cy="202.70" r="2.0" class="rpt"/>
<circle cx="119.20" cy="202.70" r="2.0" class="rpt"/>
<circle cx="130.20" cy="199.80" r="2.0" class="rpt"/>
<circle cx="141.00" cy="204.40" r="2.0" class="rpt"/>
<line x1="216.20" y1="273.40" x2="219.20" y2="273.40" class="ax"/>
<text transform="translate(213.00 276.40) scale(0.92 1)" class="yt">-20</text>
<line x1="217.20" y1="265.82" x2="219.20" y2="265.82" class="ax"/>
<line x1="216.20" y1="258.25" x2="219.20" y2="258.25" class="ax"/>
<text transform="translate(213.00 261.25) scale(0.92 1)" class="yt">0</text>
<line x1="217.20" y1="250.67" x2="219.20" y2="250.67" class="ax"/>
<line x1="216.20" y1="243.10" x2="219.20" y2="243.10" class="ax"/>
<text transform="translate(213.00 246.10) scale(0.92 1)" class="yt">20</text>
<line x1="217.20" y1="235.52" x2="219.20" y2="235.52" class="ax"/>
<line x1="216.20" y1="227.95" x2="219.20" y2="227.95" class="ax"/>
<text transform="translate(213.00 230.95) scale(0.92 1)" class="yt">40</text>
<line x1="217.20" y1="220.38" x2="219.20" y2="220.38" class="ax"/>
<line x1="216.20" y1="212.80" x2="219.20" y2="212.80" class="ax"/>
<text transform="translate(213.00 215.80) scale(0.92 1)" class="yt">60</text>
<line x1="217.20" y1="205.22" x2="219.20" y2="205.22" class="ax"/>
<line x1="216.20" y1="197.65" x2="219.20" y2="197.65" class="ax"/>
<text transform="translate(213.00 200.65) scale(0.92 1)" class="yt">80</text>
<line x1="217.20" y1="190.07" x2="219.20" y2="190.07" class="ax"/>
<line x1="216.20" y1="182.50" x2="219.20" y2="182.50" class="ax"/>
<text transform="translate(213.00 185.50) scale(0.92 1)" class="yt">100</text>
<line x1="219.20" y1="273.40" x2="219.20" y2="276.40" class="ax"/>
<line x1="223.43" y1="273.40" x2="223.43" y2="275.00" class="axm"/>
<line x1="225.90" y1="273.40" x2="225.90" y2="275.00" class="axm"/>
<line x1="227.66" y1="273.40" x2="227.66" y2="275.00" class="axm"/>
<line x1="229.02" y1="273.40" x2="229.02" y2="275.00" class="axm"/>
<line x1="230.13" y1="273.40" x2="230.13" y2="275.00" class="axm"/>
<line x1="231.07" y1="273.40" x2="231.07" y2="275.00" class="axm"/>
<line x1="231.89" y1="273.40" x2="231.89" y2="275.00" class="axm"/>
<line x1="232.61" y1="273.40" x2="232.61" y2="275.00" class="axm"/>
<text transform="translate(222.30 282.80) rotate(-45)" class="xt">0.0001</text>
<line x1="233.25" y1="273.40" x2="233.25" y2="275.60" class="ax"/>
<line x1="237.48" y1="273.40" x2="237.48" y2="275.00" class="axm"/>
<line x1="239.95" y1="273.40" x2="239.95" y2="275.00" class="axm"/>
<line x1="241.71" y1="273.40" x2="241.71" y2="275.00" class="axm"/>
<line x1="243.07" y1="273.40" x2="243.07" y2="275.00" class="axm"/>
<line x1="244.18" y1="273.40" x2="244.18" y2="275.00" class="axm"/>
<line x1="245.12" y1="273.40" x2="245.12" y2="275.00" class="axm"/>
<line x1="245.94" y1="273.40" x2="245.94" y2="275.00" class="axm"/>
<line x1="246.66" y1="273.40" x2="246.66" y2="275.00" class="axm"/>
<line x1="247.30" y1="273.40" x2="247.30" y2="276.40" class="ax"/>
<line x1="251.53" y1="273.40" x2="251.53" y2="275.00" class="axm"/>
<line x1="254.00" y1="273.40" x2="254.00" y2="275.00" class="axm"/>
<line x1="255.76" y1="273.40" x2="255.76" y2="275.00" class="axm"/>
<line x1="257.12" y1="273.40" x2="257.12" y2="275.00" class="axm"/>
<line x1="258.23" y1="273.40" x2="258.23" y2="275.00" class="axm"/>
<line x1="259.17" y1="273.40" x2="259.17" y2="275.00" class="axm"/>
<line x1="259.99" y1="273.40" x2="259.99" y2="275.00" class="axm"/>
<line x1="260.71" y1="273.40" x2="260.71" y2="275.00" class="axm"/>
<text transform="translate(250.40 282.80) rotate(-45)" class="xt">0.01</text>
<line x1="261.35" y1="273.40" x2="261.35" y2="275.60" class="ax"/>
<line x1="265.58" y1="273.40" x2="265.58" y2="275.00" class="axm"/>
<line x1="268.05" y1="273.40" x2="268.05" y2="275.00" class="axm"/>
<line x1="269.81" y1="273.40" x2="269.81" y2="275.00" class="axm"/>
<line x1="271.17" y1="273.40" x2="271.17" y2="275.00" class="axm"/>
<line x1="272.28" y1="273.40" x2="272.28" y2="275.00" class="axm"/>
<line x1="273.22" y1="273.40" x2="273.22" y2="275.00" class="axm"/>
<line x1="274.04" y1="273.40" x2="274.04" y2="275.00" class="axm"/>
<line x1="274.76" y1="273.40" x2="274.76" y2="275.00" class="axm"/>
<line x1="275.40" y1="273.40" x2="275.40" y2="276.40" class="ax"/>
<line x1="279.63" y1="273.40" x2="279.63" y2="275.00" class="axm"/>
<line x1="282.10" y1="273.40" x2="282.10" y2="275.00" class="axm"/>
<line x1="283.86" y1="273.40" x2="283.86" y2="275.00" class="axm"/>
<line x1="285.22" y1="273.40" x2="285.22" y2="275.00" class="axm"/>
<line x1="286.33" y1="273.40" x2="286.33" y2="275.00" class="axm"/>
<line x1="287.27" y1="273.40" x2="287.27" y2="275.00" class="axm"/>
<line x1="288.09" y1="273.40" x2="288.09" y2="275.00" class="axm"/>
<line x1="288.81" y1="273.40" x2="288.81" y2="275.00" class="axm"/>
<text transform="translate(278.50 282.80) rotate(-45)" class="xt">1</text>
<line x1="289.45" y1="273.40" x2="289.45" y2="275.60" class="ax"/>
<line x1="293.68" y1="273.40" x2="293.68" y2="275.00" class="axm"/>
<line x1="296.15" y1="273.40" x2="296.15" y2="275.00" class="axm"/>
<line x1="297.91" y1="273.40" x2="297.91" y2="275.00" class="axm"/>
<line x1="299.27" y1="273.40" x2="299.27" y2="275.00" class="axm"/>
<line x1="300.38" y1="273.40" x2="300.38" y2="275.00" class="axm"/>
<line x1="301.32" y1="273.40" x2="301.32" y2="275.00" class="axm"/>
<line x1="302.14" y1="273.40" x2="302.14" y2="275.00" class="axm"/>
<line x1="302.86" y1="273.40" x2="302.86" y2="275.00" class="axm"/>
<line x1="303.50" y1="273.40" x2="303.50" y2="276.40" class="ax"/>
<line x1="307.73" y1="273.40" x2="307.73" y2="275.00" class="axm"/>
<line x1="310.20" y1="273.40" x2="310.20" y2="275.00" class="axm"/>
<line x1="311.96" y1="273.40" x2="311.96" y2="275.00" class="axm"/>
<line x1="313.32" y1="273.40" x2="313.32" y2="275.00" class="axm"/>
<line x1="314.43" y1="273.40" x2="314.43" y2="275.00" class="axm"/>
<line x1="315.37" y1="273.40" x2="315.37" y2="275.00" class="axm"/>
<line x1="316.19" y1="273.40" x2="316.19" y2="275.00" class="axm"/>
<line x1="316.91" y1="273.40" x2="316.91" y2="275.00" class="axm"/>
<text transform="translate(306.60 282.80) rotate(-45)" class="xt">100</text>
<line x1="317.55" y1="273.40" x2="317.55" y2="275.60" class="ax"/>
<line x1="321.78" y1="273.40" x2="321.78" y2="275.00" class="axm"/>
<line x1="324.25" y1="273.40" x2="324.25" y2="275.00" class="axm"/>
<line x1="326.01" y1="273.40" x2="326.01" y2="275.00" class="axm"/>
<line x1="327.37" y1="273.40" x2="327.37" y2="275.00" class="axm"/>
<line x1="328.48" y1="273.40" x2="328.48" y2="275.00" class="axm"/>
<line x1="329.42" y1="273.40" x2="329.42" y2="275.00" class="axm"/>
<line x1="330.24" y1="273.40" x2="330.24" y2="275.00" class="axm"/>
<line x1="330.96" y1="273.40" x2="330.96" y2="275.00" class="axm"/>
<line x1="331.60" y1="273.40" x2="331.60" y2="276.40" class="ax"/>
<text transform="translate(334.70 282.80) rotate(-45)" class="xt">10000</text>
<line x1="219.20" y1="180.00" x2="219.20" y2="275.90" class="axl"/>
<line x1="218.50" y1="273.40" x2="334.10" y2="273.40" class="axl"/>
<line x1="220.70" y1="258.25" x2="331.60" y2="258.25" class="dot"/>
<text transform="translate(276.20 174.10) scale(0.93 1)" class="title">Patient 5</text>
<text x="276.40" y="313.40" class="xl" textLength="57.3" lengthAdjust="spacingAndGlyphs">Concentration (nM)</text>
<text transform="translate(194.10 226.55) rotate(-90)" class="yl" textLength="40.4" lengthAdjust="spacingAndGlyphs">% cytotoxicity</text>
<text transform="translate(222.50 188.60) scale(0.94 1)" class="ec">EC<tspan font-size="5.6" dy="2.4">50</tspan><tspan dy="-2.4">&#160;0.578&#160;nM</tspan></text>
<polyline points="232.80,257.00 265.70,256.60 276.60,256.90 287.60,254.80 295.00,252.60 309.30,252.20" class="gln"/>
<circle cx="232.80" cy="257.90" r="2.45" class="gpt"/>
<circle cx="244.00" cy="256.00" r="2.45" class="gpt"/>
<circle cx="254.80" cy="256.00" r="2.45" class="gpt"/>
<circle cx="265.70" cy="256.50" r="2.45" class="gpt"/>
<circle cx="276.60" cy="256.90" r="2.45" class="gpt"/>
<circle cx="287.60" cy="254.80" r="2.45" class="gpt"/>
<circle cx="309.30" cy="252.20" r="2.45" class="gpt"/>
<polyline points="232.80,255.67 233.57,255.67 234.34,255.67 235.11,255.67 235.87,255.67 236.64,255.67 237.41,255.67 238.18,255.67 238.95,255.67 239.72,255.67 240.49,255.67 241.26,255.67 242.02,255.67 242.79,255.67 243.56,255.67 244.33,255.67 245.10,255.67 245.87,255.67 246.64,255.67 247.41,255.67 248.17,255.67 248.94,255.67 249.71,255.67 250.48,255.67 251.25,255.67 252.02,255.67 252.79,255.67 253.55,255.67 254.32,255.67 255.09,255.66 255.86,255.66 256.63,255.66 257.40,255.66 258.17,255.66 258.94,255.65 259.70,255.65 260.47,255.63 261.24,255.62 262.01,255.59 262.78,255.54 263.55,255.47 264.32,255.36 265.08,255.19 265.85,254.92 266.62,254.51 267.39,253.88 268.16,252.96 268.93,251.63 269.70,249.80 270.47,247.42 271.23,244.58 272.00,241.46 272.77,238.38 273.54,235.61 274.31,233.34 275.08,231.61 275.85,230.37 276.62,229.51 277.38,228.94 278.15,228.56 278.92,228.31 279.69,228.15 280.46,228.05 281.23,227.99 282.00,227.94 282.76,227.92 283.53,227.90 284.30,227.89 285.07,227.88 285.84,227.88 286.61,227.88 287.38,227.87 288.15,227.87 288.91,227.87 289.68,227.87 290.45,227.87 291.22,227.87 291.99,227.87 292.76,227.87 293.53,227.87 294.29,227.87 295.06,227.87 295.83,227.87 296.60,227.87 297.37,227.87 298.14,227.87 298.91,227.87 299.68,227.87 300.44,227.87 301.21,227.87 301.98,227.87 302.75,227.87 303.52,227.87 304.29,227.87 305.06,227.87 305.83,227.87 306.59,227.87 307.36,227.87 308.13,227.87 308.90,227.87" class="rln"/>
<circle cx="232.80" cy="254.40" r="2.0" class="rpt"/>
<circle cx="244.00" cy="256.00" r="2.0" class="rpt"/>
<circle cx="254.80" cy="256.00" r="2.0" class="rpt"/>
<circle cx="265.70" cy="254.80" r="2.0" class="rpt"/>
<circle cx="276.60" cy="230.00" r="2.0" class="rpt"/>
<circle cx="287.60" cy="226.80" r="2.0" class="rpt"/>
<circle cx="309.30" cy="229.70" r="2.0" class="rpt"/>
<line x1="386.20" y1="273.40" x2="389.20" y2="273.40" class="ax"/>
<text transform="translate(383.00 276.40) scale(0.92 1)" class="yt">-20</text>
<line x1="387.20" y1="265.97" x2="389.20" y2="265.97" class="ax"/>
<line x1="386.20" y1="258.55" x2="389.20" y2="258.55" class="ax"/>
<text transform="translate(383.00 261.55) scale(0.92 1)" class="yt">0</text>
<line x1="387.20" y1="251.12" x2="389.20" y2="251.12" class="ax"/>
<line x1="386.20" y1="243.70" x2="389.20" y2="243.70" class="ax"/>
<text transform="translate(383.00 246.70) scale(0.92 1)" class="yt">20</text>
<line x1="387.20" y1="236.27" x2="389.20" y2="236.27" class="ax"/>
<line x1="386.20" y1="228.85" x2="389.20" y2="228.85" class="ax"/>
<text transform="translate(383.00 231.85) scale(0.92 1)" class="yt">40</text>
<line x1="387.20" y1="221.43" x2="389.20" y2="221.43" class="ax"/>
<line x1="386.20" y1="214.00" x2="389.20" y2="214.00" class="ax"/>
<text transform="translate(383.00 217.00) scale(0.92 1)" class="yt">60</text>
<line x1="387.20" y1="206.57" x2="389.20" y2="206.57" class="ax"/>
<line x1="386.20" y1="199.15" x2="389.20" y2="199.15" class="ax"/>
<text transform="translate(383.00 202.15) scale(0.92 1)" class="yt">80</text>
<line x1="387.20" y1="191.73" x2="389.20" y2="191.73" class="ax"/>
<line x1="386.20" y1="184.30" x2="389.20" y2="184.30" class="ax"/>
<text transform="translate(383.00 187.30) scale(0.92 1)" class="yt">100</text>
<line x1="389.20" y1="273.40" x2="389.20" y2="276.40" class="ax"/>
<line x1="393.31" y1="273.40" x2="393.31" y2="275.00" class="axm"/>
<line x1="395.72" y1="273.40" x2="395.72" y2="275.00" class="axm"/>
<line x1="397.42" y1="273.40" x2="397.42" y2="275.00" class="axm"/>
<line x1="398.75" y1="273.40" x2="398.75" y2="275.00" class="axm"/>
<line x1="399.83" y1="273.40" x2="399.83" y2="275.00" class="axm"/>
<line x1="400.74" y1="273.40" x2="400.74" y2="275.00" class="axm"/>
<line x1="401.54" y1="273.40" x2="401.54" y2="275.00" class="axm"/>
<line x1="402.23" y1="273.40" x2="402.23" y2="275.00" class="axm"/>
<text transform="translate(392.30 282.80) rotate(-45)" class="xt">0.0001</text>
<line x1="402.86" y1="273.40" x2="402.86" y2="275.60" class="ax"/>
<line x1="406.97" y1="273.40" x2="406.97" y2="275.00" class="axm"/>
<line x1="409.38" y1="273.40" x2="409.38" y2="275.00" class="axm"/>
<line x1="411.08" y1="273.40" x2="411.08" y2="275.00" class="axm"/>
<line x1="412.41" y1="273.40" x2="412.41" y2="275.00" class="axm"/>
<line x1="413.49" y1="273.40" x2="413.49" y2="275.00" class="axm"/>
<line x1="414.40" y1="273.40" x2="414.40" y2="275.00" class="axm"/>
<line x1="415.20" y1="273.40" x2="415.20" y2="275.00" class="axm"/>
<line x1="415.89" y1="273.40" x2="415.89" y2="275.00" class="axm"/>
<line x1="416.52" y1="273.40" x2="416.52" y2="276.40" class="ax"/>
<line x1="420.63" y1="273.40" x2="420.63" y2="275.00" class="axm"/>
<line x1="423.04" y1="273.40" x2="423.04" y2="275.00" class="axm"/>
<line x1="424.74" y1="273.40" x2="424.74" y2="275.00" class="axm"/>
<line x1="426.07" y1="273.40" x2="426.07" y2="275.00" class="axm"/>
<line x1="427.15" y1="273.40" x2="427.15" y2="275.00" class="axm"/>
<line x1="428.06" y1="273.40" x2="428.06" y2="275.00" class="axm"/>
<line x1="428.86" y1="273.40" x2="428.86" y2="275.00" class="axm"/>
<line x1="429.55" y1="273.40" x2="429.55" y2="275.00" class="axm"/>
<text transform="translate(419.62 282.80) rotate(-45)" class="xt">0.01</text>
<line x1="430.18" y1="273.40" x2="430.18" y2="275.60" class="ax"/>
<line x1="434.29" y1="273.40" x2="434.29" y2="275.00" class="axm"/>
<line x1="436.70" y1="273.40" x2="436.70" y2="275.00" class="axm"/>
<line x1="438.40" y1="273.40" x2="438.40" y2="275.00" class="axm"/>
<line x1="439.73" y1="273.40" x2="439.73" y2="275.00" class="axm"/>
<line x1="440.81" y1="273.40" x2="440.81" y2="275.00" class="axm"/>
<line x1="441.72" y1="273.40" x2="441.72" y2="275.00" class="axm"/>
<line x1="442.52" y1="273.40" x2="442.52" y2="275.00" class="axm"/>
<line x1="443.21" y1="273.40" x2="443.21" y2="275.00" class="axm"/>
<line x1="443.84" y1="273.40" x2="443.84" y2="276.40" class="ax"/>
<line x1="447.95" y1="273.40" x2="447.95" y2="275.00" class="axm"/>
<line x1="450.36" y1="273.40" x2="450.36" y2="275.00" class="axm"/>
<line x1="452.06" y1="273.40" x2="452.06" y2="275.00" class="axm"/>
<line x1="453.39" y1="273.40" x2="453.39" y2="275.00" class="axm"/>
<line x1="454.47" y1="273.40" x2="454.47" y2="275.00" class="axm"/>
<line x1="455.38" y1="273.40" x2="455.38" y2="275.00" class="axm"/>
<line x1="456.18" y1="273.40" x2="456.18" y2="275.00" class="axm"/>
<line x1="456.87" y1="273.40" x2="456.87" y2="275.00" class="axm"/>
<text transform="translate(446.94 282.80) rotate(-45)" class="xt">1</text>
<line x1="457.50" y1="273.40" x2="457.50" y2="275.60" class="ax"/>
<line x1="461.61" y1="273.40" x2="461.61" y2="275.00" class="axm"/>
<line x1="464.02" y1="273.40" x2="464.02" y2="275.00" class="axm"/>
<line x1="465.72" y1="273.40" x2="465.72" y2="275.00" class="axm"/>
<line x1="467.05" y1="273.40" x2="467.05" y2="275.00" class="axm"/>
<line x1="468.13" y1="273.40" x2="468.13" y2="275.00" class="axm"/>
<line x1="469.04" y1="273.40" x2="469.04" y2="275.00" class="axm"/>
<line x1="469.84" y1="273.40" x2="469.84" y2="275.00" class="axm"/>
<line x1="470.53" y1="273.40" x2="470.53" y2="275.00" class="axm"/>
<line x1="471.16" y1="273.40" x2="471.16" y2="276.40" class="ax"/>
<line x1="475.27" y1="273.40" x2="475.27" y2="275.00" class="axm"/>
<line x1="477.68" y1="273.40" x2="477.68" y2="275.00" class="axm"/>
<line x1="479.38" y1="273.40" x2="479.38" y2="275.00" class="axm"/>
<line x1="480.71" y1="273.40" x2="480.71" y2="275.00" class="axm"/>
<line x1="481.79" y1="273.40" x2="481.79" y2="275.00" class="axm"/>
<line x1="482.70" y1="273.40" x2="482.70" y2="275.00" class="axm"/>
<line x1="483.50" y1="273.40" x2="483.50" y2="275.00" class="axm"/>
<line x1="484.19" y1="273.40" x2="484.19" y2="275.00" class="axm"/>
<text transform="translate(474.26 282.80) rotate(-45)" class="xt">100</text>
<line x1="484.82" y1="273.40" x2="484.82" y2="275.60" class="ax"/>
<line x1="488.93" y1="273.40" x2="488.93" y2="275.00" class="axm"/>
<line x1="491.34" y1="273.40" x2="491.34" y2="275.00" class="axm"/>
<line x1="493.04" y1="273.40" x2="493.04" y2="275.00" class="axm"/>
<line x1="494.37" y1="273.40" x2="494.37" y2="275.00" class="axm"/>
<line x1="495.45" y1="273.40" x2="495.45" y2="275.00" class="axm"/>
<line x1="496.36" y1="273.40" x2="496.36" y2="275.00" class="axm"/>
<line x1="497.16" y1="273.40" x2="497.16" y2="275.00" class="axm"/>
<line x1="497.85" y1="273.40" x2="497.85" y2="275.00" class="axm"/>
<line x1="498.48" y1="273.40" x2="498.48" y2="276.40" class="ax"/>
<text transform="translate(501.58 282.80) rotate(-45)" class="xt">10000</text>
<line x1="389.20" y1="181.80" x2="389.20" y2="275.90" class="axl"/>
<line x1="388.50" y1="273.40" x2="500.98" y2="273.40" class="axl"/>
<line x1="390.70" y1="258.55" x2="498.48" y2="258.55" class="dot"/>
<text transform="translate(444.64 175.90) scale(0.93 1)" class="title">Patient 6</text>
<text x="444.84" y="313.40" class="xl" textLength="57.3" lengthAdjust="spacingAndGlyphs">Concentration (nM)</text>
<text transform="translate(364.10 227.45) rotate(-90)" class="yl" textLength="40.4" lengthAdjust="spacingAndGlyphs">% cytotoxicity</text>
<text transform="translate(392.50 191.00) scale(0.94 1)" class="ec">EC<tspan font-size="5.6" dy="2.4">50</tspan><tspan dy="-2.4">&#160;0.145&#160;nM</tspan></text>
<polyline points="402.30,251.20 423.50,250.60 434.40,251.30 445.20,248.60 455.60,248.20 477.20,249.30" class="gln"/>
<circle cx="402.30" cy="251.40" r="2.45" class="gpt"/>
<circle cx="413.20" cy="251.20" r="2.45" class="gpt"/>
<circle cx="423.50" cy="250.50" r="2.45" class="gpt"/>
<circle cx="434.40" cy="251.70" r="2.45" class="gpt"/>
<circle cx="445.20" cy="248.30" r="2.45" class="gpt"/>
<circle cx="455.60" cy="247.40" r="2.45" class="gpt"/>
<circle cx="477.20" cy="250.80" r="2.45" class="gpt"/>
<polyline points="402.80,250.62 403.54,250.62 404.28,250.62 405.03,250.61 405.77,250.61 406.51,250.61 407.25,250.60 408.00,250.59 408.74,250.59 409.48,250.58 410.22,250.57 410.97,250.55 411.71,250.53 412.45,250.51 413.19,250.48 413.94,250.45 414.68,250.40 415.42,250.35 416.16,250.28 416.91,250.20 417.65,250.10 418.39,249.97 419.13,249.82 419.88,249.62 420.62,249.39 421.36,249.10 422.10,248.74 422.85,248.31 423.59,247.79 424.33,247.16 425.07,246.41 425.82,245.52 426.56,244.48 427.30,243.27 428.04,241.89 428.78,240.35 429.53,238.64 430.27,236.79 431.01,234.84 431.75,232.82 432.50,230.78 433.24,228.77 433.98,226.82 434.72,224.99 435.47,223.31 436.21,221.78 436.95,220.43 437.69,219.24 438.44,218.22 439.18,217.35 439.92,216.61 440.66,216.00 441.41,215.49 442.15,215.07 442.89,214.72 443.63,214.44 444.38,214.21 445.12,214.02 445.86,213.87 446.60,213.75 447.35,213.65 448.09,213.57 448.83,213.50 449.57,213.45 450.32,213.41 451.06,213.37 451.80,213.35 452.54,213.32 453.28,213.31 454.03,213.29 454.77,213.28 455.51,213.27 456.25,213.26 457.00,213.26 457.74,213.25 458.48,213.25 459.22,213.25 459.97,213.24 460.71,213.24 461.45,213.24 462.19,213.24 462.94,213.24 463.68,213.24 464.42,213.24 465.16,213.24 465.91,213.23 466.65,213.23 467.39,213.23 468.13,213.23 468.88,213.23 469.62,213.23 470.36,213.23 471.10,213.23 471.85,213.23 472.59,213.23 473.33,213.23 474.07,213.23 474.82,213.23 475.56,213.23 476.30,213.23" class="rln"/>
<circle cx="423.50" cy="247.00" r="2.0" class="rpt"/>
<circle cx="434.40" cy="226.10" r="2.0" class="rpt"/>
<circle cx="445.20" cy="211.90" r="2.0" class="rpt"/>
<circle cx="455.60" cy="212.40" r="2.0" class="rpt"/>
<circle cx="477.20" cy="215.70" r="2.0" class="rpt"/>
<line x1="52.30" y1="440.30" x2="55.30" y2="440.30" class="ax"/>
<text transform="translate(49.10 443.30) scale(0.92 1)" class="yt">0</text>
<line x1="53.30" y1="431.24" x2="55.30" y2="431.24" class="ax"/>
<line x1="52.30" y1="422.18" x2="55.30" y2="422.18" class="ax"/>
<text transform="translate(49.10 425.18) scale(0.92 1)" class="yt">20</text>
<line x1="53.30" y1="413.12" x2="55.30" y2="413.12" class="ax"/>
<line x1="52.30" y1="404.06" x2="55.30" y2="404.06" class="ax"/>
<text transform="translate(49.10 407.06) scale(0.92 1)" class="yt">40</text>
<line x1="53.30" y1="395.00" x2="55.30" y2="395.00" class="ax"/>
<line x1="52.30" y1="385.94" x2="55.30" y2="385.94" class="ax"/>
<text transform="translate(49.10 388.94) scale(0.92 1)" class="yt">60</text>
<line x1="53.30" y1="376.88" x2="55.30" y2="376.88" class="ax"/>
<line x1="52.30" y1="367.82" x2="55.30" y2="367.82" class="ax"/>
<text transform="translate(49.10 370.82) scale(0.92 1)" class="yt">80</text>
<line x1="53.30" y1="358.76" x2="55.30" y2="358.76" class="ax"/>
<line x1="52.30" y1="349.70" x2="55.30" y2="349.70" class="ax"/>
<text transform="translate(49.10 352.70) scale(0.92 1)" class="yt">100</text>
<line x1="55.30" y1="440.30" x2="55.30" y2="443.30" class="ax"/>
<line x1="58.64" y1="440.30" x2="58.64" y2="441.90" class="axm"/>
<line x1="60.60" y1="440.30" x2="60.60" y2="441.90" class="axm"/>
<line x1="61.98" y1="440.30" x2="61.98" y2="441.90" class="axm"/>
<line x1="63.06" y1="440.30" x2="63.06" y2="441.90" class="axm"/>
<line x1="63.94" y1="440.30" x2="63.94" y2="441.90" class="axm"/>
<line x1="64.68" y1="440.30" x2="64.68" y2="441.90" class="axm"/>
<line x1="65.32" y1="440.30" x2="65.32" y2="441.90" class="axm"/>
<line x1="65.89" y1="440.30" x2="65.89" y2="441.90" class="axm"/>
<text transform="translate(58.40 449.70) rotate(-45)" class="xt">0.000001</text>
<line x1="66.40" y1="440.30" x2="66.40" y2="442.50" class="ax"/>
<line x1="69.74" y1="440.30" x2="69.74" y2="441.90" class="axm"/>
<line x1="71.70" y1="440.30" x2="71.70" y2="441.90" class="axm"/>
<line x1="73.08" y1="440.30" x2="73.08" y2="441.90" class="axm"/>
<line x1="74.16" y1="440.30" x2="74.16" y2="441.90" class="axm"/>
<line x1="75.04" y1="440.30" x2="75.04" y2="441.90" class="axm"/>
<line x1="75.78" y1="440.30" x2="75.78" y2="441.90" class="axm"/>
<line x1="76.42" y1="440.30" x2="76.42" y2="441.90" class="axm"/>
<line x1="76.99" y1="440.30" x2="76.99" y2="441.90" class="axm"/>
<line x1="77.50" y1="440.30" x2="77.50" y2="443.30" class="ax"/>
<line x1="80.84" y1="440.30" x2="80.84" y2="441.90" class="axm"/>
<line x1="82.80" y1="440.30" x2="82.80" y2="441.90" class="axm"/>
<line x1="84.18" y1="440.30" x2="84.18" y2="441.90" class="axm"/>
<line x1="85.26" y1="440.30" x2="85.26" y2="441.90" class="axm"/>
<line x1="86.14" y1="440.30" x2="86.14" y2="441.90" class="axm"/>
<line x1="86.88" y1="440.30" x2="86.88" y2="441.90" class="axm"/>
<line x1="87.52" y1="440.30" x2="87.52" y2="441.90" class="axm"/>
<line x1="88.09" y1="440.30" x2="88.09" y2="441.90" class="axm"/>
<text transform="translate(80.60 449.70) rotate(-45)" class="xt">0.0001</text>
<line x1="88.60" y1="440.30" x2="88.60" y2="442.50" class="ax"/>
<line x1="91.94" y1="440.30" x2="91.94" y2="441.90" class="axm"/>
<line x1="93.90" y1="440.30" x2="93.90" y2="441.90" class="axm"/>
<line x1="95.28" y1="440.30" x2="95.28" y2="441.90" class="axm"/>
<line x1="96.36" y1="440.30" x2="96.36" y2="441.90" class="axm"/>
<line x1="97.24" y1="440.30" x2="97.24" y2="441.90" class="axm"/>
<line x1="97.98" y1="440.30" x2="97.98" y2="441.90" class="axm"/>
<line x1="98.62" y1="440.30" x2="98.62" y2="441.90" class="axm"/>
<line x1="99.19" y1="440.30" x2="99.19" y2="441.90" class="axm"/>
<line x1="99.70" y1="440.30" x2="99.70" y2="443.30" class="ax"/>
<line x1="103.04" y1="440.30" x2="103.04" y2="441.90" class="axm"/>
<line x1="105.00" y1="440.30" x2="105.00" y2="441.90" class="axm"/>
<line x1="106.38" y1="440.30" x2="106.38" y2="441.90" class="axm"/>
<line x1="107.46" y1="440.30" x2="107.46" y2="441.90" class="axm"/>
<line x1="108.34" y1="440.30" x2="108.34" y2="441.90" class="axm"/>
<line x1="109.08" y1="440.30" x2="109.08" y2="441.90" class="axm"/>
<line x1="109.72" y1="440.30" x2="109.72" y2="441.90" class="axm"/>
<line x1="110.29" y1="440.30" x2="110.29" y2="441.90" class="axm"/>
<text transform="translate(102.80 449.70) rotate(-45)" class="xt">0.01</text>
<line x1="110.80" y1="440.30" x2="110.80" y2="442.50" class="ax"/>
<line x1="114.14" y1="440.30" x2="114.14" y2="441.90" class="axm"/>
<line x1="116.10" y1="440.30" x2="116.10" y2="441.90" class="axm"/>
<line x1="117.48" y1="440.30" x2="117.48" y2="441.90" class="axm"/>
<line x1="118.56" y1="440.30" x2="118.56" y2="441.90" class="axm"/>
<line x1="119.44" y1="440.30" x2="119.44" y2="441.90" class="axm"/>
<line x1="120.18" y1="440.30" x2="120.18" y2="441.90" class="axm"/>
<line x1="120.82" y1="440.30" x2="120.82" y2="441.90" class="axm"/>
<line x1="121.39" y1="440.30" x2="121.39" y2="441.90" class="axm"/>
<line x1="121.90" y1="440.30" x2="121.90" y2="443.30" class="ax"/>
<line x1="125.24" y1="440.30" x2="125.24" y2="441.90" class="axm"/>
<line x1="127.20" y1="440.30" x2="127.20" y2="441.90" class="axm"/>
<line x1="128.58" y1="440.30" x2="128.58" y2="441.90" class="axm"/>
<line x1="129.66" y1="440.30" x2="129.66" y2="441.90" class="axm"/>
<line x1="130.54" y1="440.30" x2="130.54" y2="441.90" class="axm"/>
<line x1="131.28" y1="440.30" x2="131.28" y2="441.90" class="axm"/>
<line x1="131.92" y1="440.30" x2="131.92" y2="441.90" class="axm"/>
<line x1="132.49" y1="440.30" x2="132.49" y2="441.90" class="axm"/>
<text transform="translate(125.00 449.70) rotate(-45)" class="xt">1</text>
<line x1="133.00" y1="440.30" x2="133.00" y2="442.50" class="ax"/>
<line x1="136.34" y1="440.30" x2="136.34" y2="441.90" class="axm"/>
<line x1="138.30" y1="440.30" x2="138.30" y2="441.90" class="axm"/>
<line x1="139.68" y1="440.30" x2="139.68" y2="441.90" class="axm"/>
<line x1="140.76" y1="440.30" x2="140.76" y2="441.90" class="axm"/>
<line x1="141.64" y1="440.30" x2="141.64" y2="441.90" class="axm"/>
<line x1="142.38" y1="440.30" x2="142.38" y2="441.90" class="axm"/>
<line x1="143.02" y1="440.30" x2="143.02" y2="441.90" class="axm"/>
<line x1="143.59" y1="440.30" x2="143.59" y2="441.90" class="axm"/>
<line x1="144.10" y1="440.30" x2="144.10" y2="443.30" class="ax"/>
<line x1="147.44" y1="440.30" x2="147.44" y2="441.90" class="axm"/>
<line x1="149.40" y1="440.30" x2="149.40" y2="441.90" class="axm"/>
<line x1="150.78" y1="440.30" x2="150.78" y2="441.90" class="axm"/>
<line x1="151.86" y1="440.30" x2="151.86" y2="441.90" class="axm"/>
<line x1="152.74" y1="440.30" x2="152.74" y2="441.90" class="axm"/>
<line x1="153.48" y1="440.30" x2="153.48" y2="441.90" class="axm"/>
<line x1="154.12" y1="440.30" x2="154.12" y2="441.90" class="axm"/>
<line x1="154.69" y1="440.30" x2="154.69" y2="441.90" class="axm"/>
<text transform="translate(147.20 449.70) rotate(-45)" class="xt">100</text>
<line x1="155.20" y1="440.30" x2="155.20" y2="442.50" class="ax"/>
<line x1="158.54" y1="440.30" x2="158.54" y2="441.90" class="axm"/>
<line x1="160.50" y1="440.30" x2="160.50" y2="441.90" class="axm"/>
<line x1="161.88" y1="440.30" x2="161.88" y2="441.90" class="axm"/>
<line x1="162.96" y1="440.30" x2="162.96" y2="441.90" class="axm"/>
<line x1="163.84" y1="440.30" x2="163.84" y2="441.90" class="axm"/>
<line x1="164.58" y1="440.30" x2="164.58" y2="441.90" class="axm"/>
<line x1="165.22" y1="440.30" x2="165.22" y2="441.90" class="axm"/>
<line x1="165.79" y1="440.30" x2="165.79" y2="441.90" class="axm"/>
<line x1="166.30" y1="440.30" x2="166.30" y2="443.30" class="ax"/>
<text transform="translate(169.40 449.70) rotate(-45)" class="xt">10000</text>
<line x1="55.30" y1="347.20" x2="55.30" y2="442.80" class="axl"/>
<line x1="54.60" y1="440.30" x2="168.80" y2="440.30" class="axl"/>
<text transform="translate(111.60 339.50) scale(0.93 1)" class="title">Patient 1</text>
<text x="111.80" y="486.30" class="xl" textLength="57.3" lengthAdjust="spacingAndGlyphs">Concentration (nM)</text>
<text transform="translate(30.20 393.60) rotate(-90)" class="yl"><tspan textLength="23.5" lengthAdjust="spacingAndGlyphs" font-size="10">% CD25</tspan><tspan dy="-3.8" font-size="6">+</tspan></text>
<text transform="translate(58.60 356.50) scale(0.94 1)" class="ec">EC<tspan font-size="5.6" dy="2.4">50</tspan><tspan dy="-2.4">&#160;5.109&#160;nM</tspan></text>
<polyline points="71.10,425.90 148.60,432.80" class="gln"/>
<circle cx="71.10" cy="425.70" r="2.45" class="gpt"/>
<circle cx="82.30" cy="427.40" r="2.45" class="gpt"/>
<circle cx="93.50" cy="430.20" r="2.45" class="gpt"/>
<circle cx="104.40" cy="427.10" r="2.45" class="gpt"/>
<circle cx="115.20" cy="428.80" r="2.45" class="gpt"/>
<circle cx="126.40" cy="430.90" r="2.45" class="gpt"/>
<circle cx="137.70" cy="431.40" r="2.45" class="gpt"/>
<circle cx="148.60" cy="432.60" r="2.45" class="gpt"/>
<polyline points="71.10,431.12 71.88,431.10 72.67,431.09 73.45,431.08 74.23,431.06 75.01,431.04 75.80,431.03 76.58,431.01 77.36,430.99 78.15,430.96 78.93,430.94 79.71,430.91 80.49,430.88 81.28,430.85 82.06,430.82 82.84,430.79 83.63,430.75 84.41,430.71 85.19,430.67 85.97,430.62 86.76,430.57 87.54,430.52 88.32,430.46 89.11,430.40 89.89,430.33 90.67,430.26 91.45,430.19 92.24,430.11 93.02,430.02 93.80,429.92 94.58,429.82 95.37,429.72 96.15,429.60 96.93,429.48 97.72,429.34 98.50,429.20 99.28,429.05 100.06,428.89 100.85,428.71 101.63,428.53 102.41,428.33 103.20,428.12 103.98,427.89 104.76,427.65 105.54,427.39 106.33,427.11 107.11,426.82 107.89,426.51 108.68,426.17 109.46,425.82 110.24,425.44 111.02,425.05 111.81,424.62 112.59,424.18 113.37,423.70 114.16,423.20 114.94,422.67 115.72,422.12 116.50,421.53 117.29,420.91 118.07,420.26 118.85,419.58 119.64,418.87 120.42,418.13 121.20,417.35 121.98,416.55 122.77,415.71 123.55,414.84 124.33,413.94 125.12,413.00 125.90,412.04 126.68,411.06 127.46,410.04 128.25,409.00 129.03,407.94 129.81,406.86 130.59,405.77 131.38,404.65 132.16,403.53 132.94,402.39 133.73,401.25 134.51,400.11 135.29,398.96 136.07,397.82 136.86,396.69 137.64,395.56 138.42,394.44 139.21,393.34 139.99,392.25 140.77,391.19 141.55,390.14 142.34,389.12 143.12,388.13 143.90,387.16 144.69,386.22 145.47,385.31 146.25,384.43 147.03,383.58 147.82,382.76 148.60,381.97" class="rln"/>
<circle cx="71.10" cy="430.20" r="2.0" class="rpt"/>
<circle cx="82.30" cy="431.80" r="2.0" class="rpt"/>
<circle cx="93.50" cy="429.70" r="2.0" class="rpt"/>
<circle cx="104.40" cy="430.60" r="2.0" class="rpt"/>
<circle cx="115.20" cy="423.60" r="2.0" class="rpt"/>
<circle cx="126.40" cy="406.30" r="2.0" class="rpt"/>
<circle cx="137.70" cy="395.40" r="2.0" class="rpt"/>
<circle cx="148.60" cy="381.60" r="2.0" class="rpt"/>
<line x1="219.50" y1="440.00" x2="222.50" y2="440.00" class="ax"/>
<text transform="translate(216.30 443.00) scale(0.92 1)" class="yt">0</text>
<line x1="220.50" y1="430.72" x2="222.50" y2="430.72" class="ax"/>
<line x1="219.50" y1="421.44" x2="222.50" y2="421.44" class="ax"/>
<text transform="translate(216.30 424.44) scale(0.92 1)" class="yt">20</text>
<line x1="220.50" y1="412.16" x2="222.50" y2="412.16" class="ax"/>
<line x1="219.50" y1="402.88" x2="222.50" y2="402.88" class="ax"/>
<text transform="translate(216.30 405.88) scale(0.92 1)" class="yt">40</text>
<line x1="220.50" y1="393.60" x2="222.50" y2="393.60" class="ax"/>
<line x1="219.50" y1="384.32" x2="222.50" y2="384.32" class="ax"/>
<text transform="translate(216.30 387.32) scale(0.92 1)" class="yt">60</text>
<line x1="220.50" y1="375.04" x2="222.50" y2="375.04" class="ax"/>
<line x1="219.50" y1="365.76" x2="222.50" y2="365.76" class="ax"/>
<text transform="translate(216.30 368.76) scale(0.92 1)" class="yt">80</text>
<line x1="220.50" y1="356.48" x2="222.50" y2="356.48" class="ax"/>
<line x1="219.50" y1="347.20" x2="222.50" y2="347.20" class="ax"/>
<text transform="translate(216.30 350.20) scale(0.92 1)" class="yt">100</text>
<line x1="222.50" y1="440.00" x2="222.50" y2="443.00" class="ax"/>
<line x1="225.93" y1="440.00" x2="225.93" y2="441.60" class="axm"/>
<line x1="227.94" y1="440.00" x2="227.94" y2="441.60" class="axm"/>
<line x1="229.36" y1="440.00" x2="229.36" y2="441.60" class="axm"/>
<line x1="230.47" y1="440.00" x2="230.47" y2="441.60" class="axm"/>
<line x1="231.37" y1="440.00" x2="231.37" y2="441.60" class="axm"/>
<line x1="232.13" y1="440.00" x2="232.13" y2="441.60" class="axm"/>
<line x1="232.80" y1="440.00" x2="232.80" y2="441.60" class="axm"/>
<line x1="233.38" y1="440.00" x2="233.38" y2="441.60" class="axm"/>
<text transform="translate(225.60 449.40) rotate(-45)" class="xt">0.000001</text>
<line x1="233.90" y1="440.00" x2="233.90" y2="442.20" class="ax"/>
<line x1="237.33" y1="440.00" x2="237.33" y2="441.60" class="axm"/>
<line x1="239.34" y1="440.00" x2="239.34" y2="441.60" class="axm"/>
<line x1="240.76" y1="440.00" x2="240.76" y2="441.60" class="axm"/>
<line x1="241.87" y1="440.00" x2="241.87" y2="441.60" class="axm"/>
<line x1="242.77" y1="440.00" x2="242.77" y2="441.60" class="axm"/>
<line x1="243.53" y1="440.00" x2="243.53" y2="441.60" class="axm"/>
<line x1="244.20" y1="440.00" x2="244.20" y2="441.60" class="axm"/>
<line x1="244.78" y1="440.00" x2="244.78" y2="441.60" class="axm"/>
<line x1="245.30" y1="440.00" x2="245.30" y2="443.00" class="ax"/>
<line x1="248.73" y1="440.00" x2="248.73" y2="441.60" class="axm"/>
<line x1="250.74" y1="440.00" x2="250.74" y2="441.60" class="axm"/>
<line x1="252.16" y1="440.00" x2="252.16" y2="441.60" class="axm"/>
<line x1="253.27" y1="440.00" x2="253.27" y2="441.60" class="axm"/>
<line x1="254.17" y1="440.00" x2="254.17" y2="441.60" class="axm"/>
<line x1="254.93" y1="440.00" x2="254.93" y2="441.60" class="axm"/>
<line x1="255.60" y1="440.00" x2="255.60" y2="441.60" class="axm"/>
<line x1="256.18" y1="440.00" x2="256.18" y2="441.60" class="axm"/>
<text transform="translate(248.40 449.40) rotate(-45)" class="xt">0.0001</text>
<line x1="256.70" y1="440.00" x2="256.70" y2="442.20" class="ax"/>
<line x1="260.13" y1="440.00" x2="260.13" y2="441.60" class="axm"/>
<line x1="262.14" y1="440.00" x2="262.14" y2="441.60" class="axm"/>
<line x1="263.56" y1="440.00" x2="263.56" y2="441.60" class="axm"/>
<line x1="264.67" y1="440.00" x2="264.67" y2="441.60" class="axm"/>
<line x1="265.57" y1="440.00" x2="265.57" y2="441.60" class="axm"/>
<line x1="266.33" y1="440.00" x2="266.33" y2="441.60" class="axm"/>
<line x1="267.00" y1="440.00" x2="267.00" y2="441.60" class="axm"/>
<line x1="267.58" y1="440.00" x2="267.58" y2="441.60" class="axm"/>
<line x1="268.10" y1="440.00" x2="268.10" y2="443.00" class="ax"/>
<line x1="271.53" y1="440.00" x2="271.53" y2="441.60" class="axm"/>
<line x1="273.54" y1="440.00" x2="273.54" y2="441.60" class="axm"/>
<line x1="274.96" y1="440.00" x2="274.96" y2="441.60" class="axm"/>
<line x1="276.07" y1="440.00" x2="276.07" y2="441.60" class="axm"/>
<line x1="276.97" y1="440.00" x2="276.97" y2="441.60" class="axm"/>
<line x1="277.73" y1="440.00" x2="277.73" y2="441.60" class="axm"/>
<line x1="278.40" y1="440.00" x2="278.40" y2="441.60" class="axm"/>
<line x1="278.98" y1="440.00" x2="278.98" y2="441.60" class="axm"/>
<text transform="translate(271.20 449.40) rotate(-45)" class="xt">0.01</text>
<line x1="279.50" y1="440.00" x2="279.50" y2="442.20" class="ax"/>
<line x1="282.93" y1="440.00" x2="282.93" y2="441.60" class="axm"/>
<line x1="284.94" y1="440.00" x2="284.94" y2="441.60" class="axm"/>
<line x1="286.36" y1="440.00" x2="286.36" y2="441.60" class="axm"/>
<line x1="287.47" y1="440.00" x2="287.47" y2="441.60" class="axm"/>
<line x1="288.37" y1="440.00" x2="288.37" y2="441.60" class="axm"/>
<line x1="289.13" y1="440.00" x2="289.13" y2="441.60" class="axm"/>
<line x1="289.80" y1="440.00" x2="289.80" y2="441.60" class="axm"/>
<line x1="290.38" y1="440.00" x2="290.38" y2="441.60" class="axm"/>
<line x1="290.90" y1="440.00" x2="290.90" y2="443.00" class="ax"/>
<line x1="294.33" y1="440.00" x2="294.33" y2="441.60" class="axm"/>
<line x1="296.34" y1="440.00" x2="296.34" y2="441.60" class="axm"/>
<line x1="297.76" y1="440.00" x2="297.76" y2="441.60" class="axm"/>
<line x1="298.87" y1="440.00" x2="298.87" y2="441.60" class="axm"/>
<line x1="299.77" y1="440.00" x2="299.77" y2="441.60" class="axm"/>
<line x1="300.53" y1="440.00" x2="300.53" y2="441.60" class="axm"/>
<line x1="301.20" y1="440.00" x2="301.20" y2="441.60" class="axm"/>
<line x1="301.78" y1="440.00" x2="301.78" y2="441.60" class="axm"/>
<text transform="translate(294.00 449.40) rotate(-45)" class="xt">1</text>
<line x1="302.30" y1="440.00" x2="302.30" y2="442.20" class="ax"/>
<line x1="305.73" y1="440.00" x2="305.73" y2="441.60" class="axm"/>
<line x1="307.74" y1="440.00" x2="307.74" y2="441.60" class="axm"/>
<line x1="309.16" y1="440.00" x2="309.16" y2="441.60" class="axm"/>
<line x1="310.27" y1="440.00" x2="310.27" y2="441.60" class="axm"/>
<line x1="311.17" y1="440.00" x2="311.17" y2="441.60" class="axm"/>
<line x1="311.93" y1="440.00" x2="311.93" y2="441.60" class="axm"/>
<line x1="312.60" y1="440.00" x2="312.60" y2="441.60" class="axm"/>
<line x1="313.18" y1="440.00" x2="313.18" y2="441.60" class="axm"/>
<line x1="313.70" y1="440.00" x2="313.70" y2="443.00" class="ax"/>
<line x1="317.13" y1="440.00" x2="317.13" y2="441.60" class="axm"/>
<line x1="319.14" y1="440.00" x2="319.14" y2="441.60" class="axm"/>
<line x1="320.56" y1="440.00" x2="320.56" y2="441.60" class="axm"/>
<line x1="321.67" y1="440.00" x2="321.67" y2="441.60" class="axm"/>
<line x1="322.57" y1="440.00" x2="322.57" y2="441.60" class="axm"/>
<line x1="323.33" y1="440.00" x2="323.33" y2="441.60" class="axm"/>
<line x1="324.00" y1="440.00" x2="324.00" y2="441.60" class="axm"/>
<line x1="324.58" y1="440.00" x2="324.58" y2="441.60" class="axm"/>
<text transform="translate(316.80 449.40) rotate(-45)" class="xt">100</text>
<line x1="325.10" y1="440.00" x2="325.10" y2="442.20" class="ax"/>
<line x1="328.53" y1="440.00" x2="328.53" y2="441.60" class="axm"/>
<line x1="330.54" y1="440.00" x2="330.54" y2="441.60" class="axm"/>
<line x1="331.96" y1="440.00" x2="331.96" y2="441.60" class="axm"/>
<line x1="333.07" y1="440.00" x2="333.07" y2="441.60" class="axm"/>
<line x1="333.97" y1="440.00" x2="333.97" y2="441.60" class="axm"/>
<line x1="334.73" y1="440.00" x2="334.73" y2="441.60" class="axm"/>
<line x1="335.40" y1="440.00" x2="335.40" y2="441.60" class="axm"/>
<line x1="335.98" y1="440.00" x2="335.98" y2="441.60" class="axm"/>
<line x1="336.50" y1="440.00" x2="336.50" y2="443.00" class="ax"/>
<text transform="translate(339.60 449.40) rotate(-45)" class="xt">10000</text>
<line x1="222.50" y1="344.70" x2="222.50" y2="442.50" class="axl"/>
<line x1="221.80" y1="440.00" x2="339.00" y2="440.00" class="axl"/>
<text transform="translate(280.30 338.80) scale(0.93 1)" class="title">Patient 2</text>
<text x="280.50" y="486.00" class="xl" textLength="57.3" lengthAdjust="spacingAndGlyphs">Concentration (nM)</text>
<text transform="translate(197.40 392.20) rotate(-90)" class="yl"><tspan textLength="23.5" lengthAdjust="spacingAndGlyphs" font-size="10">% CD25</tspan><tspan dy="-3.8" font-size="6">+</tspan></text>
<text transform="translate(225.80 353.60) scale(0.94 1)" class="ec">EC<tspan font-size="5.6" dy="2.4">50</tspan><tspan dy="-2.4">&#160;0.115&#160;nM</tspan></text>
<polyline points="239.50,439.20 284.40,439.20 296.00,438.50 303.00,436.00 318.70,435.50" class="gln"/>
<circle cx="239.50" cy="439.30" r="2.45" class="gpt"/>
<circle cx="250.50" cy="439.30" r="2.45" class="gpt"/>
<circle cx="261.80" cy="438.90" r="2.45" class="gpt"/>
<circle cx="273.30" cy="438.90" r="2.45" class="gpt"/>
<circle cx="284.40" cy="439.40" r="2.45" class="gpt"/>
<circle cx="296.00" cy="438.50" r="2.45" class="gpt"/>
<circle cx="307.30" cy="435.50" r="2.45" class="gpt"/>
<circle cx="318.70" cy="435.50" r="2.45" class="gpt"/>
<polyline points="239.50,438.84 240.30,438.84 241.09,438.84 241.89,438.84 242.69,438.84 243.48,438.84 244.28,438.84 245.08,438.84 245.88,438.84 246.67,438.84 247.47,438.84 248.27,438.84 249.06,438.84 249.86,438.84 250.66,438.84 251.45,438.84 252.25,438.84 253.05,438.84 253.85,438.84 254.64,438.84 255.44,438.84 256.24,438.84 257.03,438.84 257.83,438.84 258.63,438.84 259.42,438.83 260.22,438.83 261.02,438.82 261.82,438.81 262.61,438.80 263.41,438.78 264.21,438.76 265.00,438.73 265.80,438.68 266.60,438.61 267.39,438.51 268.19,438.38 268.99,438.19 269.78,437.93 270.58,437.56 271.38,437.05 272.18,436.35 272.97,435.38 273.77,434.05 274.57,432.26 275.36,429.87 276.16,426.75 276.96,422.77 277.75,417.88 278.55,412.08 279.35,405.53 280.15,398.50 280.94,391.38 281.74,384.57 282.54,378.40 283.33,373.08 284.13,368.69 284.93,365.20 285.72,362.49 286.52,360.45 287.32,358.92 288.12,357.80 288.91,356.98 289.71,356.39 290.51,355.97 291.30,355.66 292.10,355.44 292.90,355.29 293.69,355.18 294.49,355.10 295.29,355.04 296.08,355.00 296.88,354.97 297.68,354.95 298.48,354.94 299.27,354.93 300.07,354.92 300.87,354.91 301.66,354.91 302.46,354.91 303.26,354.91 304.05,354.90 304.85,354.90 305.65,354.90 306.45,354.90 307.24,354.90 308.04,354.90 308.84,354.90 309.63,354.90 310.43,354.90 311.23,354.90 312.02,354.90 312.82,354.90 313.62,354.90 314.42,354.90 315.21,354.90 316.01,354.90 316.81,354.90 317.60,354.90 318.40,354.90" class="rln"/>
<circle cx="239.50" cy="439.50" r="2.0" class="rpt"/>
<circle cx="250.50" cy="439.50" r="2.0" class="rpt"/>
<circle cx="261.80" cy="438.90" r="2.0" class="rpt"/>
<circle cx="273.30" cy="433.80" r="2.0" class="rpt"/>
<circle cx="284.90" cy="366.90" r="2.0" class="rpt"/>
<circle cx="296.00" cy="354.90" r="2.0" class="rpt"/>
<circle cx="307.30" cy="354.90" r="2.0" class="rpt"/>
<circle cx="318.70" cy="355.80" r="2.0" class="rpt"/>
<line x1="389.60" y1="439.90" x2="392.60" y2="439.90" class="ax"/>
<text transform="translate(386.40 442.90) scale(0.92 1)" class="yt">0</text>
<line x1="390.60" y1="430.79" x2="392.60" y2="430.79" class="ax"/>
<line x1="389.60" y1="421.68" x2="392.60" y2="421.68" class="ax"/>
<text transform="translate(386.40 424.68) scale(0.92 1)" class="yt">20</text>
<line x1="390.60" y1="412.57" x2="392.60" y2="412.57" class="ax"/>
<line x1="389.60" y1="403.46" x2="392.60" y2="403.46" class="ax"/>
<text transform="translate(386.40 406.46) scale(0.92 1)" class="yt">40</text>
<line x1="390.60" y1="394.35" x2="392.60" y2="394.35" class="ax"/>
<line x1="389.60" y1="385.24" x2="392.60" y2="385.24" class="ax"/>
<text transform="translate(386.40 388.24) scale(0.92 1)" class="yt">60</text>
<line x1="390.60" y1="376.13" x2="392.60" y2="376.13" class="ax"/>
<line x1="389.60" y1="367.02" x2="392.60" y2="367.02" class="ax"/>
<text transform="translate(386.40 370.02) scale(0.92 1)" class="yt">80</text>
<line x1="390.60" y1="357.91" x2="392.60" y2="357.91" class="ax"/>
<line x1="389.60" y1="348.80" x2="392.60" y2="348.80" class="ax"/>
<text transform="translate(386.40 351.80) scale(0.92 1)" class="yt">100</text>
<line x1="392.60" y1="439.90" x2="392.60" y2="442.90" class="ax"/>
<line x1="395.97" y1="439.90" x2="395.97" y2="441.50" class="axm"/>
<line x1="397.94" y1="439.90" x2="397.94" y2="441.50" class="axm"/>
<line x1="399.34" y1="439.90" x2="399.34" y2="441.50" class="axm"/>
<line x1="400.43" y1="439.90" x2="400.43" y2="441.50" class="axm"/>
<line x1="401.32" y1="439.90" x2="401.32" y2="441.50" class="axm"/>
<line x1="402.07" y1="439.90" x2="402.07" y2="441.50" class="axm"/>
<line x1="402.71" y1="439.90" x2="402.71" y2="441.50" class="axm"/>
<line x1="403.29" y1="439.90" x2="403.29" y2="441.50" class="axm"/>
<text transform="translate(395.70 449.30) rotate(-45)" class="xt">0.000001</text>
<line x1="403.80" y1="439.90" x2="403.80" y2="442.10" class="ax"/>
<line x1="407.17" y1="439.90" x2="407.17" y2="441.50" class="axm"/>
<line x1="409.14" y1="439.90" x2="409.14" y2="441.50" class="axm"/>
<line x1="410.54" y1="439.90" x2="410.54" y2="441.50" class="axm"/>
<line x1="411.63" y1="439.90" x2="411.63" y2="441.50" class="axm"/>
<line x1="412.52" y1="439.90" x2="412.52" y2="441.50" class="axm"/>
<line x1="413.27" y1="439.90" x2="413.27" y2="441.50" class="axm"/>
<line x1="413.91" y1="439.90" x2="413.91" y2="441.50" class="axm"/>
<line x1="414.49" y1="439.90" x2="414.49" y2="441.50" class="axm"/>
<line x1="415.00" y1="439.90" x2="415.00" y2="442.90" class="ax"/>
<line x1="418.37" y1="439.90" x2="418.37" y2="441.50" class="axm"/>
<line x1="420.34" y1="439.90" x2="420.34" y2="441.50" class="axm"/>
<line x1="421.74" y1="439.90" x2="421.74" y2="441.50" class="axm"/>
<line x1="422.83" y1="439.90" x2="422.83" y2="441.50" class="axm"/>
<line x1="423.72" y1="439.90" x2="423.72" y2="441.50" class="axm"/>
<line x1="424.47" y1="439.90" x2="424.47" y2="441.50" class="axm"/>
<line x1="425.11" y1="439.90" x2="425.11" y2="441.50" class="axm"/>
<line x1="425.69" y1="439.90" x2="425.69" y2="441.50" class="axm"/>
<text transform="translate(418.10 449.30) rotate(-45)" class="xt">0.0001</text>
<line x1="426.20" y1="439.90" x2="426.20" y2="442.10" class="ax"/>
<line x1="429.57" y1="439.90" x2="429.57" y2="441.50" class="axm"/>
<line x1="431.54" y1="439.90" x2="431.54" y2="441.50" class="axm"/>
<line x1="432.94" y1="439.90" x2="432.94" y2="441.50" class="axm"/>
<line x1="434.03" y1="439.90" x2="434.03" y2="441.50" class="axm"/>
<line x1="434.92" y1="439.90" x2="434.92" y2="441.50" class="axm"/>
<line x1="435.67" y1="439.90" x2="435.67" y2="441.50" class="axm"/>
<line x1="436.31" y1="439.90" x2="436.31" y2="441.50" class="axm"/>
<line x1="436.89" y1="439.90" x2="436.89" y2="441.50" class="axm"/>
<line x1="437.40" y1="439.90" x2="437.40" y2="442.90" class="ax"/>
<line x1="440.77" y1="439.90" x2="440.77" y2="441.50" class="axm"/>
<line x1="442.74" y1="439.90" x2="442.74" y2="441.50" class="axm"/>
<line x1="444.14" y1="439.90" x2="444.14" y2="441.50" class="axm"/>
<line x1="445.23" y1="439.90" x2="445.23" y2="441.50" class="axm"/>
<line x1="446.12" y1="439.90" x2="446.12" y2="441.50" class="axm"/>
<line x1="446.87" y1="439.90" x2="446.87" y2="441.50" class="axm"/>
<line x1="447.51" y1="439.90" x2="447.51" y2="441.50" class="axm"/>
<line x1="448.09" y1="439.90" x2="448.09" y2="441.50" class="axm"/>
<text transform="translate(440.50 449.30) rotate(-45)" class="xt">0.01</text>
<line x1="448.60" y1="439.90" x2="448.60" y2="442.10" class="ax"/>
<line x1="451.97" y1="439.90" x2="451.97" y2="441.50" class="axm"/>
<line x1="453.94" y1="439.90" x2="453.94" y2="441.50" class="axm"/>
<line x1="455.34" y1="439.90" x2="455.34" y2="441.50" class="axm"/>
<line x1="456.43" y1="439.90" x2="456.43" y2="441.50" class="axm"/>
<line x1="457.32" y1="439.90" x2="457.32" y2="441.50" class="axm"/>
<line x1="458.07" y1="439.90" x2="458.07" y2="441.50" class="axm"/>
<line x1="458.71" y1="439.90" x2="458.71" y2="441.50" class="axm"/>
<line x1="459.29" y1="439.90" x2="459.29" y2="441.50" class="axm"/>
<line x1="459.80" y1="439.90" x2="459.80" y2="442.90" class="ax"/>
<line x1="463.17" y1="439.90" x2="463.17" y2="441.50" class="axm"/>
<line x1="465.14" y1="439.90" x2="465.14" y2="441.50" class="axm"/>
<line x1="466.54" y1="439.90" x2="466.54" y2="441.50" class="axm"/>
<line x1="467.63" y1="439.90" x2="467.63" y2="441.50" class="axm"/>
<line x1="468.52" y1="439.90" x2="468.52" y2="441.50" class="axm"/>
<line x1="469.27" y1="439.90" x2="469.27" y2="441.50" class="axm"/>
<line x1="469.91" y1="439.90" x2="469.91" y2="441.50" class="axm"/>
<line x1="470.49" y1="439.90" x2="470.49" y2="441.50" class="axm"/>
<text transform="translate(462.90 449.30) rotate(-45)" class="xt">1</text>
<line x1="471.00" y1="439.90" x2="471.00" y2="442.10" class="ax"/>
<line x1="474.37" y1="439.90" x2="474.37" y2="441.50" class="axm"/>
<line x1="476.34" y1="439.90" x2="476.34" y2="441.50" class="axm"/>
<line x1="477.74" y1="439.90" x2="477.74" y2="441.50" class="axm"/>
<line x1="478.83" y1="439.90" x2="478.83" y2="441.50" class="axm"/>
<line x1="479.72" y1="439.90" x2="479.72" y2="441.50" class="axm"/>
<line x1="480.47" y1="439.90" x2="480.47" y2="441.50" class="axm"/>
<line x1="481.11" y1="439.90" x2="481.11" y2="441.50" class="axm"/>
<line x1="481.69" y1="439.90" x2="481.69" y2="441.50" class="axm"/>
<line x1="482.20" y1="439.90" x2="482.20" y2="442.90" class="ax"/>
<line x1="485.57" y1="439.90" x2="485.57" y2="441.50" class="axm"/>
<line x1="487.54" y1="439.90" x2="487.54" y2="441.50" class="axm"/>
<line x1="488.94" y1="439.90" x2="488.94" y2="441.50" class="axm"/>
<line x1="490.03" y1="439.90" x2="490.03" y2="441.50" class="axm"/>
<line x1="490.92" y1="439.90" x2="490.92" y2="441.50" class="axm"/>
<line x1="491.67" y1="439.90" x2="491.67" y2="441.50" class="axm"/>
<line x1="492.31" y1="439.90" x2="492.31" y2="441.50" class="axm"/>
<line x1="492.89" y1="439.90" x2="492.89" y2="441.50" class="axm"/>
<text transform="translate(485.30 449.30) rotate(-45)" class="xt">100</text>
<line x1="493.40" y1="439.90" x2="493.40" y2="442.10" class="ax"/>
<line x1="496.77" y1="439.90" x2="496.77" y2="441.50" class="axm"/>
<line x1="498.74" y1="439.90" x2="498.74" y2="441.50" class="axm"/>
<line x1="500.14" y1="439.90" x2="500.14" y2="441.50" class="axm"/>
<line x1="501.23" y1="439.90" x2="501.23" y2="441.50" class="axm"/>
<line x1="502.12" y1="439.90" x2="502.12" y2="441.50" class="axm"/>
<line x1="502.87" y1="439.90" x2="502.87" y2="441.50" class="axm"/>
<line x1="503.51" y1="439.90" x2="503.51" y2="441.50" class="axm"/>
<line x1="504.09" y1="439.90" x2="504.09" y2="441.50" class="axm"/>
<line x1="504.60" y1="439.90" x2="504.60" y2="442.90" class="ax"/>
<text transform="translate(507.70 449.30) rotate(-45)" class="xt">10000</text>
<line x1="392.60" y1="346.30" x2="392.60" y2="442.40" class="axl"/>
<line x1="391.90" y1="439.90" x2="507.10" y2="439.90" class="axl"/>
<text transform="translate(449.40 340.40) scale(0.93 1)" class="title">Patient 3</text>
<text x="449.60" y="485.90" class="xl" textLength="57.3" lengthAdjust="spacingAndGlyphs">Concentration (nM)</text>
<text transform="translate(366.40 392.95) rotate(-90)" class="yl"><tspan textLength="23.5" lengthAdjust="spacingAndGlyphs" font-size="10">% CD25</tspan><tspan dy="-3.8" font-size="6">+</tspan></text>
<text transform="translate(395.90 355.70) scale(0.94 1)" class="ec">EC<tspan font-size="5.6" dy="2.4">50</tspan><tspan dy="-2.4">&#160;1.20&#160;nM</tspan></text>
<circle cx="453.40" cy="436.20" r="2.45" class="gpt"/>
<circle cx="464.50" cy="437.10" r="2.45" class="gpt"/>
<circle cx="475.90" cy="437.10" r="2.45" class="gpt"/>
<circle cx="487.20" cy="437.50" r="2.45" class="gpt"/>
<polyline points="408.20,436.42 408.98,436.42 409.77,436.42 410.55,436.42 411.34,436.42 412.12,436.42 412.91,436.42 413.69,436.42 414.48,436.42 415.26,436.42 416.05,436.42 416.83,436.42 417.62,436.42 418.40,436.42 419.19,436.42 419.97,436.42 420.76,436.42 421.54,436.42 422.33,436.42 423.11,436.42 423.90,436.42 424.68,436.42 425.47,436.42 426.25,436.42 427.04,436.42 427.82,436.41 428.61,436.41 429.39,436.41 430.18,436.41 430.96,436.40 431.75,436.40 432.53,436.39 433.32,436.38 434.10,436.38 434.88,436.37 435.67,436.35 436.45,436.34 437.24,436.32 438.02,436.30 438.81,436.28 439.59,436.25 440.38,436.22 441.16,436.18 441.95,436.13 442.73,436.07 443.52,436.00 444.30,435.92 445.09,435.82 445.87,435.70 446.66,435.57 447.44,435.40 448.23,435.21 449.01,434.99 449.80,434.72 450.58,434.42 451.37,434.06 452.15,433.65 452.94,433.18 453.72,432.64 454.51,432.04 455.29,431.36 456.08,430.62 456.86,429.81 457.65,428.94 458.43,428.01 459.22,427.05 460.00,426.06 460.78,425.05 461.57,424.05 462.35,423.07 463.14,422.12 463.92,421.23 464.71,420.39 465.49,419.61 466.28,418.91 467.06,418.27 467.85,417.71 468.63,417.21 469.42,416.77 470.20,416.39 470.99,416.06 471.77,415.77 472.56,415.53 473.34,415.32 474.13,415.15 474.91,415.00 475.70,414.87 476.48,414.77 477.27,414.68 478.05,414.60 478.84,414.54 479.62,414.49 480.41,414.44 481.19,414.41 481.98,414.38 482.76,414.35 483.55,414.33 484.33,414.31 485.12,414.30 485.90,414.28" class="rln"/>
<circle cx="408.80" cy="438.00" r="2.0" class="rpt"/>
<circle cx="420.10" cy="437.10" r="2.0" class="rpt"/>
<circle cx="431.40" cy="436.20" r="2.0" class="rpt"/>
<circle cx="442.40" cy="435.30" r="2.0" class="rpt"/>
<circle cx="453.40" cy="432.50" r="2.0" class="rpt"/>
<circle cx="464.50" cy="421.40" r="2.0" class="rpt"/>
<circle cx="475.90" cy="410.60" r="2.0" class="rpt"/>
<circle cx="487.20" cy="418.30" r="2.0" class="rpt"/>
<line x1="52.40" y1="609.50" x2="55.40" y2="609.50" class="ax"/>
<text transform="translate(49.20 612.50) scale(0.92 1)" class="yt">0</text>
<line x1="53.40" y1="599.99" x2="55.40" y2="599.99" class="ax"/>
<line x1="52.40" y1="590.48" x2="55.40" y2="590.48" class="ax"/>
<text transform="translate(49.20 593.48) scale(0.92 1)" class="yt">20</text>
<line x1="53.40" y1="580.97" x2="55.40" y2="580.97" class="ax"/>
<line x1="52.40" y1="571.46" x2="55.40" y2="571.46" class="ax"/>
<text transform="translate(49.20 574.46) scale(0.92 1)" class="yt">40</text>
<line x1="53.40" y1="561.95" x2="55.40" y2="561.95" class="ax"/>
<line x1="52.40" y1="552.44" x2="55.40" y2="552.44" class="ax"/>
<text transform="translate(49.20 555.44) scale(0.92 1)" class="yt">60</text>
<line x1="53.40" y1="542.93" x2="55.40" y2="542.93" class="ax"/>
<line x1="52.40" y1="533.42" x2="55.40" y2="533.42" class="ax"/>
<text transform="translate(49.20 536.42) scale(0.92 1)" class="yt">80</text>
<line x1="53.40" y1="523.91" x2="55.40" y2="523.91" class="ax"/>
<line x1="52.40" y1="514.40" x2="55.40" y2="514.40" class="ax"/>
<text transform="translate(49.20 517.40) scale(0.92 1)" class="yt">100</text>
<line x1="55.40" y1="609.50" x2="55.40" y2="612.50" class="ax"/>
<line x1="59.80" y1="609.50" x2="59.80" y2="611.10" class="axm"/>
<line x1="62.37" y1="609.50" x2="62.37" y2="611.10" class="axm"/>
<line x1="64.19" y1="609.50" x2="64.19" y2="611.10" class="axm"/>
<line x1="65.60" y1="609.50" x2="65.60" y2="611.10" class="axm"/>
<line x1="66.76" y1="609.50" x2="66.76" y2="611.10" class="axm"/>
<line x1="67.74" y1="609.50" x2="67.74" y2="611.10" class="axm"/>
<line x1="68.59" y1="609.50" x2="68.59" y2="611.10" class="axm"/>
<line x1="69.33" y1="609.50" x2="69.33" y2="611.10" class="axm"/>
<text transform="translate(58.50 618.90) rotate(-45)" class="xt">0.0001</text>
<line x1="70.00" y1="609.50" x2="70.00" y2="611.70" class="ax"/>
<line x1="74.40" y1="609.50" x2="74.40" y2="611.10" class="axm"/>
<line x1="76.97" y1="609.50" x2="76.97" y2="611.10" class="axm"/>
<line x1="78.79" y1="609.50" x2="78.79" y2="611.10" class="axm"/>
<line x1="80.20" y1="609.50" x2="80.20" y2="611.10" class="axm"/>
<line x1="81.36" y1="609.50" x2="81.36" y2="611.10" class="axm"/>
<line x1="82.34" y1="609.50" x2="82.34" y2="611.10" class="axm"/>
<line x1="83.19" y1="609.50" x2="83.19" y2="611.10" class="axm"/>
<line x1="83.93" y1="609.50" x2="83.93" y2="611.10" class="axm"/>
<line x1="84.60" y1="609.50" x2="84.60" y2="612.50" class="ax"/>
<line x1="89.00" y1="609.50" x2="89.00" y2="611.10" class="axm"/>
<line x1="91.57" y1="609.50" x2="91.57" y2="611.10" class="axm"/>
<line x1="93.39" y1="609.50" x2="93.39" y2="611.10" class="axm"/>
<line x1="94.80" y1="609.50" x2="94.80" y2="611.10" class="axm"/>
<line x1="95.96" y1="609.50" x2="95.96" y2="611.10" class="axm"/>
<line x1="96.94" y1="609.50" x2="96.94" y2="611.10" class="axm"/>
<line x1="97.79" y1="609.50" x2="97.79" y2="611.10" class="axm"/>
<line x1="98.53" y1="609.50" x2="98.53" y2="611.10" class="axm"/>
<text transform="translate(87.70 618.90) rotate(-45)" class="xt">0.01</text>
<line x1="99.20" y1="609.50" x2="99.20" y2="611.70" class="ax"/>
<line x1="103.60" y1="609.50" x2="103.60" y2="611.10" class="axm"/>
<line x1="106.17" y1="609.50" x2="106.17" y2="611.10" class="axm"/>
<line x1="107.99" y1="609.50" x2="107.99" y2="611.10" class="axm"/>
<line x1="109.40" y1="609.50" x2="109.40" y2="611.10" class="axm"/>
<line x1="110.56" y1="609.50" x2="110.56" y2="611.10" class="axm"/>
<line x1="111.54" y1="609.50" x2="111.54" y2="611.10" class="axm"/>
<line x1="112.39" y1="609.50" x2="112.39" y2="611.10" class="axm"/>
<line x1="113.13" y1="609.50" x2="113.13" y2="611.10" class="axm"/>
<line x1="113.80" y1="609.50" x2="113.80" y2="612.50" class="ax"/>
<line x1="118.20" y1="609.50" x2="118.20" y2="611.10" class="axm"/>
<line x1="120.77" y1="609.50" x2="120.77" y2="611.10" class="axm"/>
<line x1="122.59" y1="609.50" x2="122.59" y2="611.10" class="axm"/>
<line x1="124.00" y1="609.50" x2="124.00" y2="611.10" class="axm"/>
<line x1="125.16" y1="609.50" x2="125.16" y2="611.10" class="axm"/>
<line x1="126.14" y1="609.50" x2="126.14" y2="611.10" class="axm"/>
<line x1="126.99" y1="609.50" x2="126.99" y2="611.10" class="axm"/>
<line x1="127.73" y1="609.50" x2="127.73" y2="611.10" class="axm"/>
<text transform="translate(116.90 618.90) rotate(-45)" class="xt">1</text>
<line x1="128.40" y1="609.50" x2="128.40" y2="611.70" class="ax"/>
<line x1="132.80" y1="609.50" x2="132.80" y2="611.10" class="axm"/>
<line x1="135.37" y1="609.50" x2="135.37" y2="611.10" class="axm"/>
<line x1="137.19" y1="609.50" x2="137.19" y2="611.10" class="axm"/>
<line x1="138.60" y1="609.50" x2="138.60" y2="611.10" class="axm"/>
<line x1="139.76" y1="609.50" x2="139.76" y2="611.10" class="axm"/>
<line x1="140.74" y1="609.50" x2="140.74" y2="611.10" class="axm"/>
<line x1="141.59" y1="609.50" x2="141.59" y2="611.10" class="axm"/>
<line x1="142.33" y1="609.50" x2="142.33" y2="611.10" class="axm"/>
<line x1="143.00" y1="609.50" x2="143.00" y2="612.50" class="ax"/>
<line x1="147.40" y1="609.50" x2="147.40" y2="611.10" class="axm"/>
<line x1="149.97" y1="609.50" x2="149.97" y2="611.10" class="axm"/>
<line x1="151.79" y1="609.50" x2="151.79" y2="611.10" class="axm"/>
<line x1="153.20" y1="609.50" x2="153.20" y2="611.10" class="axm"/>
<line x1="154.36" y1="609.50" x2="154.36" y2="611.10" class="axm"/>
<line x1="155.34" y1="609.50" x2="155.34" y2="611.10" class="axm"/>
<line x1="156.19" y1="609.50" x2="156.19" y2="611.10" class="axm"/>
<line x1="156.93" y1="609.50" x2="156.93" y2="611.10" class="axm"/>
<text transform="translate(146.10 618.90) rotate(-45)" class="xt">100</text>
<line x1="157.60" y1="609.50" x2="157.60" y2="611.70" class="ax"/>
<line x1="162.00" y1="609.50" x2="162.00" y2="611.10" class="axm"/>
<line x1="164.57" y1="609.50" x2="164.57" y2="611.10" class="axm"/>
<line x1="166.39" y1="609.50" x2="166.39" y2="611.10" class="axm"/>
<line x1="167.80" y1="609.50" x2="167.80" y2="611.10" class="axm"/>
<line x1="168.96" y1="609.50" x2="168.96" y2="611.10" class="axm"/>
<line x1="169.94" y1="609.50" x2="169.94" y2="611.10" class="axm"/>
<line x1="170.79" y1="609.50" x2="170.79" y2="611.10" class="axm"/>
<line x1="171.53" y1="609.50" x2="171.53" y2="611.10" class="axm"/>
<line x1="172.20" y1="609.50" x2="172.20" y2="612.50" class="ax"/>
<text transform="translate(175.30 618.90) rotate(-45)" class="xt">10000</text>
<line x1="55.40" y1="511.90" x2="55.40" y2="612.00" class="axl"/>
<line x1="54.70" y1="609.50" x2="174.70" y2="609.50" class="axl"/>
<text transform="translate(114.60 506.00) scale(0.93 1)" class="title">Patient 4</text>
<text x="114.80" y="649.50" class="xl" textLength="57.3" lengthAdjust="spacingAndGlyphs">Concentration (nM)</text>
<text transform="translate(30.30 560.55) rotate(-90)" class="yl"><tspan textLength="23.5" lengthAdjust="spacingAndGlyphs" font-size="10">% CD25</tspan><tspan dy="-3.8" font-size="6">+</tspan></text>
<text transform="translate(58.70 521.90) scale(0.94 1)" class="ec">EC<tspan font-size="5.6" dy="2.4">50</tspan><tspan dy="-2.4">&#160;&#160;0.030</tspan></text>
<polyline points="69.10,609.00 126.20,609.00 137.70,608.10 149.00,606.70" class="gln"/>
<circle cx="69.10" cy="608.90" r="2.45" class="gpt"/>
<circle cx="80.70" cy="608.90" r="2.45" class="gpt"/>
<circle cx="92.00" cy="609.00" r="2.45" class="gpt"/>
<circle cx="103.30" cy="609.00" r="2.45" class="gpt"/>
<circle cx="114.50" cy="609.00" r="2.45" class="gpt"/>
<circle cx="126.20" cy="609.00" r="2.45" class="gpt"/>
<circle cx="137.70" cy="608.10" r="2.45" class="gpt"/>
<circle cx="149.00" cy="606.70" r="2.45" class="gpt"/>
<polyline points="69.10,609.56 69.91,609.55 70.73,609.54 71.54,609.53 72.35,609.51 73.17,609.49 73.98,609.46 74.79,609.42 75.61,609.37 76.42,609.30 77.23,609.20 78.04,609.08 78.86,608.92 79.67,608.71 80.48,608.44 81.30,608.08 82.11,607.62 82.92,607.02 83.74,606.26 84.55,605.28 85.36,604.06 86.18,602.55 86.99,600.72 87.80,598.54 88.62,596.01 89.43,593.17 90.24,590.08 91.05,586.84 91.87,583.57 92.68,580.40 93.49,577.44 94.31,574.76 95.12,572.42 95.93,570.43 96.75,568.77 97.56,567.42 98.37,566.34 99.19,565.49 100.00,564.82 100.81,564.29 101.63,563.89 102.44,563.58 103.25,563.35 104.06,563.17 104.88,563.03 105.69,562.92 106.50,562.84 107.32,562.78 108.13,562.74 108.94,562.70 109.76,562.68 110.57,562.66 111.38,562.64 112.20,562.63 113.01,562.62 113.82,562.62 114.64,562.61 115.45,562.61 116.26,562.60 117.07,562.60 117.89,562.60 118.70,562.60 119.51,562.60 120.33,562.60 121.14,562.60 121.95,562.60 122.77,562.60 123.58,562.60 124.39,562.60 125.21,562.60 126.02,562.60 126.83,562.60 127.65,562.60 128.46,562.60 129.27,562.60 130.08,562.60 130.90,562.60 131.71,562.60 132.52,562.60 133.34,562.60 134.15,562.60 134.96,562.60 135.78,562.60 136.59,562.60 137.40,562.60 138.22,562.60 139.03,562.60 139.84,562.60 140.66,562.60 141.47,562.60 142.28,562.60 143.09,562.60 143.91,562.60 144.72,562.60 145.53,562.60 146.35,562.60 147.16,562.60 147.97,562.60 148.79,562.60 149.60,562.60" class="rln"/>
<circle cx="69.10" cy="608.50" r="2.0" class="rpt"/>
<circle cx="80.70" cy="608.90" r="2.0" class="rpt"/>
<circle cx="92.00" cy="582.50" r="2.0" class="rpt"/>
<circle cx="103.30" cy="565.00" r="2.0" class="rpt"/>
<circle cx="114.50" cy="561.50" r="2.0" class="rpt"/>
<circle cx="126.20" cy="561.00" r="2.0" class="rpt"/>
<circle cx="137.70" cy="562.40" r="2.0" class="rpt"/>
<circle cx="149.00" cy="562.80" r="2.0" class="rpt"/>
<line x1="219.20" y1="609.50" x2="222.20" y2="609.50" class="ax"/>
<text transform="translate(216.00 612.50) scale(0.92 1)" class="yt">0</text>
<line x1="220.20" y1="599.85" x2="222.20" y2="599.85" class="ax"/>
<line x1="219.20" y1="590.20" x2="222.20" y2="590.20" class="ax"/>
<text transform="translate(216.00 593.20) scale(0.92 1)" class="yt">20</text>
<line x1="220.20" y1="580.55" x2="222.20" y2="580.55" class="ax"/>
<line x1="219.20" y1="570.90" x2="222.20" y2="570.90" class="ax"/>
<text transform="translate(216.00 573.90) scale(0.92 1)" class="yt">40</text>
<line x1="220.20" y1="561.25" x2="222.20" y2="561.25" class="ax"/>
<line x1="219.20" y1="551.60" x2="222.20" y2="551.60" class="ax"/>
<text transform="translate(216.00 554.60) scale(0.92 1)" class="yt">60</text>
<line x1="220.20" y1="541.95" x2="222.20" y2="541.95" class="ax"/>
<line x1="219.20" y1="532.30" x2="222.20" y2="532.30" class="ax"/>
<text transform="translate(216.00 535.30) scale(0.92 1)" class="yt">80</text>
<line x1="220.20" y1="522.65" x2="222.20" y2="522.65" class="ax"/>
<line x1="219.20" y1="513.00" x2="222.20" y2="513.00" class="ax"/>
<text transform="translate(216.00 516.00) scale(0.92 1)" class="yt">100</text>
<line x1="222.20" y1="609.50" x2="222.20" y2="612.50" class="ax"/>
<line x1="226.71" y1="609.50" x2="226.71" y2="611.10" class="axm"/>
<line x1="229.34" y1="609.50" x2="229.34" y2="611.10" class="axm"/>
<line x1="231.21" y1="609.50" x2="231.21" y2="611.10" class="axm"/>
<line x1="232.66" y1="609.50" x2="232.66" y2="611.10" class="axm"/>
<line x1="233.85" y1="609.50" x2="233.85" y2="611.10" class="axm"/>
<line x1="234.85" y1="609.50" x2="234.85" y2="611.10" class="axm"/>
<line x1="235.72" y1="609.50" x2="235.72" y2="611.10" class="axm"/>
<line x1="236.49" y1="609.50" x2="236.49" y2="611.10" class="axm"/>
<text transform="translate(225.30 618.90) rotate(-45)" class="xt">0.0001</text>
<line x1="237.17" y1="609.50" x2="237.17" y2="611.70" class="ax"/>
<line x1="241.68" y1="609.50" x2="241.68" y2="611.10" class="axm"/>
<line x1="244.31" y1="609.50" x2="244.31" y2="611.10" class="axm"/>
<line x1="246.18" y1="609.50" x2="246.18" y2="611.10" class="axm"/>
<line x1="247.63" y1="609.50" x2="247.63" y2="611.10" class="axm"/>
<line x1="248.82" y1="609.50" x2="248.82" y2="611.10" class="axm"/>
<line x1="249.82" y1="609.50" x2="249.82" y2="611.10" class="axm"/>
<line x1="250.69" y1="609.50" x2="250.69" y2="611.10" class="axm"/>
<line x1="251.46" y1="609.50" x2="251.46" y2="611.10" class="axm"/>
<line x1="252.14" y1="609.50" x2="252.14" y2="612.50" class="ax"/>
<line x1="256.65" y1="609.50" x2="256.65" y2="611.10" class="axm"/>
<line x1="259.28" y1="609.50" x2="259.28" y2="611.10" class="axm"/>
<line x1="261.15" y1="609.50" x2="261.15" y2="611.10" class="axm"/>
<line x1="262.60" y1="609.50" x2="262.60" y2="611.10" class="axm"/>
<line x1="263.79" y1="609.50" x2="263.79" y2="611.10" class="axm"/>
<line x1="264.79" y1="609.50" x2="264.79" y2="611.10" class="axm"/>
<line x1="265.66" y1="609.50" x2="265.66" y2="611.10" class="axm"/>
<line x1="266.43" y1="609.50" x2="266.43" y2="611.10" class="axm"/>
<text transform="translate(255.24 618.90) rotate(-45)" class="xt">0.01</text>
<line x1="267.11" y1="609.50" x2="267.11" y2="611.70" class="ax"/>
<line x1="271.62" y1="609.50" x2="271.62" y2="611.10" class="axm"/>
<line x1="274.25" y1="609.50" x2="274.25" y2="611.10" class="axm"/>
<line x1="276.12" y1="609.50" x2="276.12" y2="611.10" class="axm"/>
<line x1="277.57" y1="609.50" x2="277.57" y2="611.10" class="axm"/>
<line x1="278.76" y1="609.50" x2="278.76" y2="611.10" class="axm"/>
<line x1="279.76" y1="609.50" x2="279.76" y2="611.10" class="axm"/>
<line x1="280.63" y1="609.50" x2="280.63" y2="611.10" class="axm"/>
<line x1="281.40" y1="609.50" x2="281.40" y2="611.10" class="axm"/>
<line x1="282.08" y1="609.50" x2="282.08" y2="612.50" class="ax"/>
<line x1="286.59" y1="609.50" x2="286.59" y2="611.10" class="axm"/>
<line x1="289.22" y1="609.50" x2="289.22" y2="611.10" class="axm"/>
<line x1="291.09" y1="609.50" x2="291.09" y2="611.10" class="axm"/>
<line x1="292.54" y1="609.50" x2="292.54" y2="611.10" class="axm"/>
<line x1="293.73" y1="609.50" x2="293.73" y2="611.10" class="axm"/>
<line x1="294.73" y1="609.50" x2="294.73" y2="611.10" class="axm"/>
<line x1="295.60" y1="609.50" x2="295.60" y2="611.10" class="axm"/>
<line x1="296.37" y1="609.50" x2="296.37" y2="611.10" class="axm"/>
<text transform="translate(285.18 618.90) rotate(-45)" class="xt">1</text>
<line x1="297.05" y1="609.50" x2="297.05" y2="611.70" class="ax"/>
<line x1="301.56" y1="609.50" x2="301.56" y2="611.10" class="axm"/>
<line x1="304.19" y1="609.50" x2="304.19" y2="611.10" class="axm"/>
<line x1="306.06" y1="609.50" x2="306.06" y2="611.10" class="axm"/>
<line x1="307.51" y1="609.50" x2="307.51" y2="611.10" class="axm"/>
<line x1="308.70" y1="609.50" x2="308.70" y2="611.10" class="axm"/>
<line x1="309.70" y1="609.50" x2="309.70" y2="611.10" class="axm"/>
<line x1="310.57" y1="609.50" x2="310.57" y2="611.10" class="axm"/>
<line x1="311.34" y1="609.50" x2="311.34" y2="611.10" class="axm"/>
<line x1="312.02" y1="609.50" x2="312.02" y2="612.50" class="ax"/>
<line x1="316.53" y1="609.50" x2="316.53" y2="611.10" class="axm"/>
<line x1="319.16" y1="609.50" x2="319.16" y2="611.10" class="axm"/>
<line x1="321.03" y1="609.50" x2="321.03" y2="611.10" class="axm"/>
<line x1="322.48" y1="609.50" x2="322.48" y2="611.10" class="axm"/>
<line x1="323.67" y1="609.50" x2="323.67" y2="611.10" class="axm"/>
<line x1="324.67" y1="609.50" x2="324.67" y2="611.10" class="axm"/>
<line x1="325.54" y1="609.50" x2="325.54" y2="611.10" class="axm"/>
<line x1="326.31" y1="609.50" x2="326.31" y2="611.10" class="axm"/>
<text transform="translate(315.12 618.90) rotate(-45)" class="xt">100</text>
<line x1="326.99" y1="609.50" x2="326.99" y2="611.70" class="ax"/>
<line x1="331.50" y1="609.50" x2="331.50" y2="611.10" class="axm"/>
<line x1="334.13" y1="609.50" x2="334.13" y2="611.10" class="axm"/>
<line x1="336.00" y1="609.50" x2="336.00" y2="611.10" class="axm"/>
<line x1="337.45" y1="609.50" x2="337.45" y2="611.10" class="axm"/>
<line x1="338.64" y1="609.50" x2="338.64" y2="611.10" class="axm"/>
<line x1="339.64" y1="609.50" x2="339.64" y2="611.10" class="axm"/>
<line x1="340.51" y1="609.50" x2="340.51" y2="611.10" class="axm"/>
<line x1="341.28" y1="609.50" x2="341.28" y2="611.10" class="axm"/>
<line x1="341.96" y1="609.50" x2="341.96" y2="612.50" class="ax"/>
<text transform="translate(345.06 618.90) rotate(-45)" class="xt">10000</text>
<line x1="222.20" y1="510.50" x2="222.20" y2="612.00" class="axl"/>
<line x1="221.50" y1="609.50" x2="344.46" y2="609.50" class="axl"/>
<text transform="translate(282.88 504.60) scale(0.93 1)" class="title">Patient 5</text>
<text x="283.08" y="649.50" class="xl" textLength="57.3" lengthAdjust="spacingAndGlyphs">Concentration (nM)</text>
<text transform="translate(197.10 559.85) rotate(-90)" class="yl"><tspan textLength="23.5" lengthAdjust="spacingAndGlyphs" font-size="10">% CD25</tspan><tspan dy="-3.8" font-size="6">+</tspan></text>
<text transform="translate(225.50 520.80) scale(0.94 1)" class="ec">EC<tspan font-size="5.6" dy="2.4">50</tspan><tspan dy="-2.4">&#160;&#160;0.355&#160;nM</tspan></text>
<polyline points="236.90,603.60 237.93,603.61 238.96,603.62 239.99,603.63 241.02,603.64 242.05,603.65 243.08,603.66 244.11,603.67 245.14,603.68 246.17,603.69 247.20,603.70 248.23,603.71 249.26,603.72 250.29,603.73 251.33,603.74 252.36,603.75 253.39,603.76 254.42,603.76 255.45,603.77 256.48,603.78 257.51,603.78 258.54,603.79 259.57,603.80 260.60,603.80 261.63,603.81 262.66,603.82 263.69,603.82 264.72,603.83 265.75,603.83 266.78,603.84 267.81,603.85 268.84,603.85 269.87,603.86 270.90,603.86 271.93,603.87 272.96,603.87 273.99,603.88 275.02,603.88 276.05,603.89 277.08,603.89 278.12,603.89 279.15,603.90 280.18,603.90 281.21,603.90 282.24,603.90 283.27,603.90 284.30,603.90 285.33,603.89 286.36,603.89 287.39,603.88 288.42,603.86 289.45,603.85 290.48,603.83 291.51,603.82 292.54,603.80 293.57,603.77 294.60,603.75 295.63,603.72 296.66,603.70 297.69,603.67 298.72,603.64 299.75,603.61 300.78,603.57 301.81,603.54 302.84,603.48 303.87,603.42 304.91,603.33 305.94,603.22 306.97,603.07 308.00,602.49 309.03,601.41 310.06,600.01 311.09,598.07 312.12,594.86 313.15,591.28 314.18,588.31 315.21,585.97 316.24,583.82 317.27,581.91 318.30,580.30" class="gln"/>
<circle cx="236.90" cy="602.80" r="2.45" class="gpt"/>
<circle cx="248.60" cy="605.00" r="2.45" class="gpt"/>
<circle cx="260.20" cy="604.00" r="2.45" class="gpt"/>
<circle cx="272.00" cy="604.00" r="2.45" class="gpt"/>
<circle cx="283.40" cy="604.50" r="2.45" class="gpt"/>
<circle cx="295.30" cy="604.00" r="2.45" class="gpt"/>
<circle cx="318.30" cy="580.30" r="2.45" class="gpt"/>
<polyline points="236.90,602.96 237.73,602.96 238.55,602.96 239.38,602.96 240.21,602.96 241.03,602.96 241.86,602.96 242.68,602.96 243.51,602.96 244.34,602.95 245.16,602.95 245.99,602.95 246.82,602.95 247.64,602.95 248.47,602.95 249.29,602.94 250.12,602.94 250.95,602.93 251.77,602.92 252.60,602.91 253.43,602.90 254.25,602.88 255.08,602.86 255.90,602.83 256.73,602.79 257.56,602.74 258.38,602.68 259.21,602.60 260.04,602.49 260.86,602.35 261.69,602.17 262.51,601.93 263.34,601.63 264.17,601.23 264.99,600.73 265.82,600.09 266.65,599.28 267.47,598.25 268.30,596.96 269.12,595.37 269.95,593.43 270.78,591.10 271.60,588.36 272.43,585.20 273.26,581.68 274.08,577.85 274.91,573.82 275.73,569.73 276.56,565.71 277.39,561.90 278.21,558.39 279.04,555.27 279.87,552.56 280.69,550.26 281.52,548.34 282.34,546.78 283.17,545.51 284.00,544.50 284.82,543.70 285.65,543.07 286.48,542.57 287.30,542.19 288.13,541.89 288.95,541.66 289.78,541.48 290.61,541.34 291.43,541.24 292.26,541.15 293.09,541.09 293.91,541.04 294.74,541.00 295.56,540.98 296.39,540.95 297.22,540.94 298.04,540.92 298.87,540.91 299.70,540.91 300.52,540.90 301.35,540.90 302.17,540.89 303.00,540.89 303.83,540.89 304.65,540.89 305.48,540.88 306.31,540.88 307.13,540.88 307.96,540.88 308.78,540.88 309.61,540.88 310.44,540.88 311.26,540.88 312.09,540.88 312.92,540.88 313.74,540.88 314.57,540.88 315.39,540.88 316.22,540.88 317.05,540.88 317.87,540.88 318.70,540.88" class="rln"/>
<circle cx="236.90" cy="603.10" r="2.0" class="rpt"/>
<circle cx="248.60" cy="603.70" r="2.0" class="rpt"/>
<circle cx="260.20" cy="603.10" r="2.0" class="rpt"/>
<circle cx="272.00" cy="588.50" r="2.0" class="rpt"/>
<circle cx="283.40" cy="545.50" r="2.0" class="rpt"/>
<circle cx="295.30" cy="541.30" r="2.0" class="rpt"/>
<circle cx="318.30" cy="541.30" r="2.0" class="rpt"/>
<line x1="389.50" y1="609.50" x2="392.50" y2="609.50" class="ax"/>
<text transform="translate(386.30 612.50) scale(0.92 1)" class="yt">0</text>
<line x1="390.50" y1="600.05" x2="392.50" y2="600.05" class="ax"/>
<line x1="389.50" y1="590.60" x2="392.50" y2="590.60" class="ax"/>
<text transform="translate(386.30 593.60) scale(0.92 1)" class="yt">20</text>
<line x1="390.50" y1="581.15" x2="392.50" y2="581.15" class="ax"/>
<line x1="389.50" y1="571.70" x2="392.50" y2="571.70" class="ax"/>
<text transform="translate(386.30 574.70) scale(0.92 1)" class="yt">40</text>
<line x1="390.50" y1="562.25" x2="392.50" y2="562.25" class="ax"/>
<line x1="389.50" y1="552.80" x2="392.50" y2="552.80" class="ax"/>
<text transform="translate(386.30 555.80) scale(0.92 1)" class="yt">60</text>
<line x1="390.50" y1="543.35" x2="392.50" y2="543.35" class="ax"/>
<line x1="389.50" y1="533.90" x2="392.50" y2="533.90" class="ax"/>
<text transform="translate(386.30 536.90) scale(0.92 1)" class="yt">80</text>
<line x1="390.50" y1="524.45" x2="392.50" y2="524.45" class="ax"/>
<line x1="389.50" y1="515.00" x2="392.50" y2="515.00" class="ax"/>
<text transform="translate(386.30 518.00) scale(0.92 1)" class="yt">100</text>
<line x1="392.50" y1="609.50" x2="392.50" y2="612.50" class="ax"/>
<line x1="396.86" y1="609.50" x2="396.86" y2="611.10" class="axm"/>
<line x1="399.42" y1="609.50" x2="399.42" y2="611.10" class="axm"/>
<line x1="401.23" y1="609.50" x2="401.23" y2="611.10" class="axm"/>
<line x1="402.64" y1="609.50" x2="402.64" y2="611.10" class="axm"/>
<line x1="403.78" y1="609.50" x2="403.78" y2="611.10" class="axm"/>
<line x1="404.75" y1="609.50" x2="404.75" y2="611.10" class="axm"/>
<line x1="405.59" y1="609.50" x2="405.59" y2="611.10" class="axm"/>
<line x1="406.34" y1="609.50" x2="406.34" y2="611.10" class="axm"/>
<text transform="translate(395.60 618.90) rotate(-45)" class="xt">0.0001</text>
<line x1="407.00" y1="609.50" x2="407.00" y2="611.70" class="ax"/>
<line x1="411.36" y1="609.50" x2="411.36" y2="611.10" class="axm"/>
<line x1="413.92" y1="609.50" x2="413.92" y2="611.10" class="axm"/>
<line x1="415.73" y1="609.50" x2="415.73" y2="611.10" class="axm"/>
<line x1="417.14" y1="609.50" x2="417.14" y2="611.10" class="axm"/>
<line x1="418.28" y1="609.50" x2="418.28" y2="611.10" class="axm"/>
<line x1="419.25" y1="609.50" x2="419.25" y2="611.10" class="axm"/>
<line x1="420.09" y1="609.50" x2="420.09" y2="611.10" class="axm"/>
<line x1="420.84" y1="609.50" x2="420.84" y2="611.10" class="axm"/>
<line x1="421.50" y1="609.50" x2="421.50" y2="612.50" class="ax"/>
<line x1="425.86" y1="609.50" x2="425.86" y2="611.10" class="axm"/>
<line x1="428.42" y1="609.50" x2="428.42" y2="611.10" class="axm"/>
<line x1="430.23" y1="609.50" x2="430.23" y2="611.10" class="axm"/>
<line x1="431.64" y1="609.50" x2="431.64" y2="611.10" class="axm"/>
<line x1="432.78" y1="609.50" x2="432.78" y2="611.10" class="axm"/>
<line x1="433.75" y1="609.50" x2="433.75" y2="611.10" class="axm"/>
<line x1="434.59" y1="609.50" x2="434.59" y2="611.10" class="axm"/>
<line x1="435.34" y1="609.50" x2="435.34" y2="611.10" class="axm"/>
<text transform="translate(424.60 618.90) rotate(-45)" class="xt">0.01</text>
<line x1="436.00" y1="609.50" x2="436.00" y2="611.70" class="ax"/>
<line x1="440.36" y1="609.50" x2="440.36" y2="611.10" class="axm"/>
<line x1="442.92" y1="609.50" x2="442.92" y2="611.10" class="axm"/>
<line x1="444.73" y1="609.50" x2="444.73" y2="611.10" class="axm"/>
<line x1="446.14" y1="609.50" x2="446.14" y2="611.10" class="axm"/>
<line x1="447.28" y1="609.50" x2="447.28" y2="611.10" class="axm"/>
<line x1="448.25" y1="609.50" x2="448.25" y2="611.10" class="axm"/>
<line x1="449.09" y1="609.50" x2="449.09" y2="611.10" class="axm"/>
<line x1="449.84" y1="609.50" x2="449.84" y2="611.10" class="axm"/>
<line x1="450.50" y1="609.50" x2="450.50" y2="612.50" class="ax"/>
<line x1="454.86" y1="609.50" x2="454.86" y2="611.10" class="axm"/>
<line x1="457.42" y1="609.50" x2="457.42" y2="611.10" class="axm"/>
<line x1="459.23" y1="609.50" x2="459.23" y2="611.10" class="axm"/>
<line x1="460.64" y1="609.50" x2="460.64" y2="611.10" class="axm"/>
<line x1="461.78" y1="609.50" x2="461.78" y2="611.10" class="axm"/>
<line x1="462.75" y1="609.50" x2="462.75" y2="611.10" class="axm"/>
<line x1="463.59" y1="609.50" x2="463.59" y2="611.10" class="axm"/>
<line x1="464.34" y1="609.50" x2="464.34" y2="611.10" class="axm"/>
<text transform="translate(453.60 618.90) rotate(-45)" class="xt">1</text>
<line x1="465.00" y1="609.50" x2="465.00" y2="611.70" class="ax"/>
<line x1="469.36" y1="609.50" x2="469.36" y2="611.10" class="axm"/>
<line x1="471.92" y1="609.50" x2="471.92" y2="611.10" class="axm"/>
<line x1="473.73" y1="609.50" x2="473.73" y2="611.10" class="axm"/>
<line x1="475.14" y1="609.50" x2="475.14" y2="611.10" class="axm"/>
<line x1="476.28" y1="609.50" x2="476.28" y2="611.10" class="axm"/>
<line x1="477.25" y1="609.50" x2="477.25" y2="611.10" class="axm"/>
<line x1="478.09" y1="609.50" x2="478.09" y2="611.10" class="axm"/>
<line x1="478.84" y1="609.50" x2="478.84" y2="611.10" class="axm"/>
<line x1="479.50" y1="609.50" x2="479.50" y2="612.50" class="ax"/>
<line x1="483.86" y1="609.50" x2="483.86" y2="611.10" class="axm"/>
<line x1="486.42" y1="609.50" x2="486.42" y2="611.10" class="axm"/>
<line x1="488.23" y1="609.50" x2="488.23" y2="611.10" class="axm"/>
<line x1="489.64" y1="609.50" x2="489.64" y2="611.10" class="axm"/>
<line x1="490.78" y1="609.50" x2="490.78" y2="611.10" class="axm"/>
<line x1="491.75" y1="609.50" x2="491.75" y2="611.10" class="axm"/>
<line x1="492.59" y1="609.50" x2="492.59" y2="611.10" class="axm"/>
<line x1="493.34" y1="609.50" x2="493.34" y2="611.10" class="axm"/>
<text transform="translate(482.60 618.90) rotate(-45)" class="xt">100</text>
<line x1="494.00" y1="609.50" x2="494.00" y2="611.70" class="ax"/>
<line x1="498.36" y1="609.50" x2="498.36" y2="611.10" class="axm"/>
<line x1="500.92" y1="609.50" x2="500.92" y2="611.10" class="axm"/>
<line x1="502.73" y1="609.50" x2="502.73" y2="611.10" class="axm"/>
<line x1="504.14" y1="609.50" x2="504.14" y2="611.10" class="axm"/>
<line x1="505.28" y1="609.50" x2="505.28" y2="611.10" class="axm"/>
<line x1="506.25" y1="609.50" x2="506.25" y2="611.10" class="axm"/>
<line x1="507.09" y1="609.50" x2="507.09" y2="611.10" class="axm"/>
<line x1="507.84" y1="609.50" x2="507.84" y2="611.10" class="axm"/>
<line x1="508.50" y1="609.50" x2="508.50" y2="612.50" class="ax"/>
<text transform="translate(511.60 618.90) rotate(-45)" class="xt">10000</text>
<line x1="392.50" y1="512.50" x2="392.50" y2="612.00" class="axl"/>
<line x1="391.80" y1="609.50" x2="511.00" y2="609.50" class="axl"/>
<text transform="translate(451.30 505.90) scale(0.93 1)" class="title">Patient 6</text>
<text x="451.50" y="649.50" class="xl" textLength="57.3" lengthAdjust="spacingAndGlyphs">Concentration (nM)</text>
<text transform="translate(367.40 560.85) rotate(-90)" class="yl"><tspan textLength="23.5" lengthAdjust="spacingAndGlyphs" font-size="10">% CD25</tspan><tspan dy="-3.8" font-size="6">+</tspan></text>
<text transform="translate(395.80 521.00) scale(0.94 1)" class="ec">EC<tspan font-size="5.6" dy="2.4">50</tspan><tspan dy="-2.4">&#160;&#160;0.311&#160;nM</tspan></text>
<polyline points="406.80,605.00 451.70,605.00 463.10,601.80 485.90,600.80" class="gln"/>
<circle cx="406.80" cy="605.00" r="2.45" class="gpt"/>
<circle cx="417.90" cy="605.00" r="2.45" class="gpt"/>
<circle cx="429.30" cy="605.00" r="2.45" class="gpt"/>
<circle cx="440.60" cy="605.00" r="2.45" class="gpt"/>
<circle cx="451.70" cy="605.00" r="2.45" class="gpt"/>
<circle cx="463.10" cy="601.80" r="2.45" class="gpt"/>
<circle cx="485.90" cy="600.80" r="2.45" class="gpt"/>
<polyline points="406.40,606.27 407.19,606.27 407.99,606.27 408.78,606.27 409.58,606.27 410.37,606.27 411.16,606.27 411.96,606.27 412.75,606.26 413.55,606.26 414.34,606.26 415.13,606.26 415.93,606.26 416.72,606.25 417.52,606.25 418.31,606.24 419.10,606.23 419.90,606.22 420.69,606.20 421.48,606.19 422.28,606.16 423.07,606.13 423.87,606.09 424.66,606.04 425.45,605.97 426.25,605.88 427.04,605.77 427.84,605.62 428.63,605.44 429.42,605.20 430.22,604.89 431.01,604.49 431.81,603.99 432.60,603.35 433.39,602.54 434.19,601.53 434.98,600.27 435.78,598.71 436.57,596.82 437.36,594.55 438.16,591.87 438.95,588.79 439.75,585.32 440.54,581.53 441.33,577.50 442.13,573.36 442.92,569.23 443.72,565.26 444.51,561.55 445.30,558.19 446.10,555.23 446.89,552.67 447.68,550.51 448.48,548.72 449.27,547.25 450.07,546.07 450.86,545.12 451.65,544.36 452.45,543.76 453.24,543.29 454.04,542.93 454.83,542.64 455.62,542.42 456.42,542.24 457.21,542.11 458.01,542.00 458.80,541.92 459.59,541.86 460.39,541.81 461.18,541.77 461.98,541.74 462.77,541.72 463.56,541.70 464.36,541.69 465.15,541.68 465.95,541.67 466.74,541.66 467.53,541.66 468.33,541.65 469.12,541.65 469.92,541.65 470.71,541.65 471.50,541.65 472.30,541.64 473.09,541.64 473.88,541.64 474.68,541.64 475.47,541.64 476.27,541.64 477.06,541.64 477.85,541.64 478.65,541.64 479.44,541.64 480.24,541.64 481.03,541.64 481.82,541.64 482.62,541.64 483.41,541.64 484.21,541.64 485.00,541.64" class="rln"/>
<circle cx="440.60" cy="587.00" r="2.0" class="rpt"/>
<circle cx="452.10" cy="545.00" r="2.0" class="rpt"/>
<circle cx="463.10" cy="539.10" r="2.0" class="rpt"/>
<circle cx="485.90" cy="543.70" r="2.0" class="rpt"/>
<line x1="225.4" y1="664.9" x2="237.2" y2="664.9" class="rln"/>
<circle cx="231.5" cy="664.9" r="2.0" class="rpt"/>
<text x="240.8" y="667.3" class="leg">JNJ-67571244</text>
<line x1="297.4" y1="664.9" x2="309.7" y2="664.9" class="gln"/>
<circle cx="303.5" cy="664.9" r="2.2" class="gpt"/>
<text x="313" y="667.3" class="leg">nullxCD3</text>
</svg>
</body></html>
